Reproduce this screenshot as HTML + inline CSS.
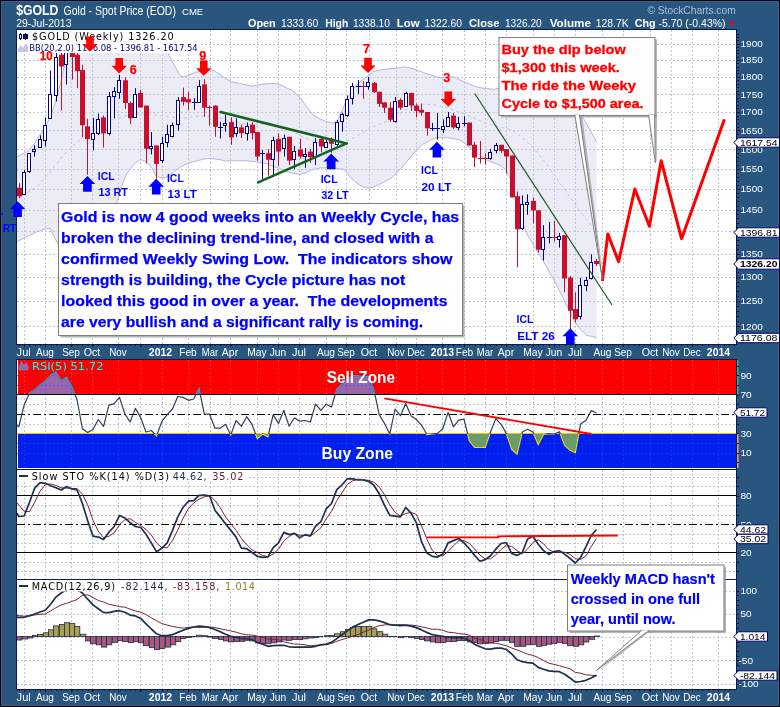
<!DOCTYPE html>
<html lang="en"><head><meta charset="utf-8"><title>$GOLD Gold - Spot Price (EOD) Weekly</title>
<style>html,body{margin:0;padding:0;background:#28567f}body{width:780px;height:707px;overflow:hidden}svg text{white-space:pre}</style></head>
<body>
<svg width="780" height="707" viewBox="0 0 780 707" style="display:block">
<defs>
<clipPath id="cm"><rect x="17" y="30" width="719" height="314"/></clipPath>
<clipPath id="cs"><rect x="17" y="53" width="719" height="291"/></clipPath>
<clipPath id="cr"><rect x="17" y="360" width="719" height="34"/></clipPath>
<clipPath id="cb"><rect x="17" y="434" width="719" height="34"/></clipPath>
<clipPath id="crsi"><rect x="17" y="361" width="719" height="107"/></clipPath>
<clipPath id="csto"><rect x="17" y="469" width="719" height="110"/></clipPath>
<clipPath id="cmacd"><rect x="17" y="580" width="719" height="109"/></clipPath>
</defs>
<rect x="0" y="0" width="780" height="707" fill="#000"/>
<rect x="1" y="1" width="778" height="705" fill="#28567f"/>
<rect x="1.5" y="1.5" width="777" height="704" fill="none" stroke="#2e6392" stroke-width="1"/>
<rect x="16.5" y="29.5" width="720" height="315" fill="#fff" stroke="#0a1a50" stroke-width="1"/>
<rect x="16.5" y="359.5" width="720" height="330" fill="#fff" stroke="#0a1a50" stroke-width="1"/>
<g clip-path="url(#cs)">
<polygon points="17,157 24,153 28,151 34,144 40,135 45,127 50,118 55,103 60,85 64,68 68,53 72,44 80,36 100,30 140,30 160,42 168.3,53.3 172,61 175,66.7 180,75.4 183,77 189,75 195.4,72.3 203,70.8 210.8,69.7 215.5,71.5 220,74.6 226.2,79.2 233,82 241.5,83.8 252.3,86.2 260,84.6 269,83.5 278.5,83.8 287.7,88.5 291.7,90 300,97.3 306,106 313.3,115 320,119 326.7,121.7 333.3,123.3 338,120 343,108 348.3,96.7 353,89 358,84 363,79.5 368,75.8 373.3,71.7 381.7,69.7 395,68.3 405,67 411.7,68.3 423.3,72.5 438.3,77.5 446,77.5 453.3,76.7 460,80 470,84.2 476.8,87.1 485,88.5 493.8,89.3 505,87 515,82 525,77 535,74 545,76 555,83 565,94 575,107 582.7,117 590,130 596.7,142 596.7,337.6 587,335.4 580,329 573.7,319.8 565,302 556,284 546,266 535.9,248.5 528,236 522,222 516,200 511,180 506,170 500,165 494,163 486.7,160 480,155.5 473.3,150 466.7,145 460,140 450,138 440,137.5 434,138.5 428.6,141.1 423,144 417.7,148.7 412,155 406.8,161.8 401,168 395.9,173.8 389.4,179.2 384,182 378.5,184.7 373.5,187 368.7,188 363.5,187 358.8,184.7 354.5,181 350.1,177 347,172.5 343.6,169.4 332.7,167.9 321.8,167.9 316.7,168.5 310.9,170.1 305,173 300,174.5 290,172.5 278.3,168.3 266.7,163.7 256.7,161.7 246.7,160.8 233.3,160.8 226.2,161 220,159.7 215,159 209.2,158.4 204,159 198.5,160.4 192,162 186.2,164.2 180.5,167 175.4,170.4 170,175 164.6,178 160,177.5 155.4,175 152.5,169 149.2,164.2 145,161 140,159.6 136,162.5 132,166.7 127,173.3 122,185 117,201.7 110,207 100,216 90,228 80,240 70,249 63,250 58.7,245 54,236.7 50.3,228.3 45,229 37,231.7 27,236.5 17,241.7" fill="#ececf7"/>
</g>
<line x1="24.5" y1="30" x2="24.5" y2="344" stroke="#c3c7d3" stroke-width="1" stroke-dasharray="2,2" opacity="1"/>
<line x1="45.5" y1="30" x2="45.5" y2="344" stroke="#c3c7d3" stroke-width="1" stroke-dasharray="2,2" opacity="1"/>
<line x1="71.5" y1="30" x2="71.5" y2="344" stroke="#c3c7d3" stroke-width="1" stroke-dasharray="2,2" opacity="1"/>
<line x1="92.5" y1="30" x2="92.5" y2="344" stroke="#c3c7d3" stroke-width="1" stroke-dasharray="2,2" opacity="1"/>
<line x1="118.5" y1="30" x2="118.5" y2="344" stroke="#c3c7d3" stroke-width="1" stroke-dasharray="2,2" opacity="1"/>
<line x1="140.5" y1="30" x2="140.5" y2="344" stroke="#c3c7d3" stroke-width="1" stroke-dasharray="2,2" opacity="1"/>
<line x1="162.5" y1="30" x2="162.5" y2="344" stroke="#c3c7d3" stroke-width="1" stroke-dasharray="2,2" opacity="1"/>
<line x1="188.5" y1="30" x2="188.5" y2="344" stroke="#c3c7d3" stroke-width="1" stroke-dasharray="2,2" opacity="1"/>
<line x1="210.5" y1="30" x2="210.5" y2="344" stroke="#c3c7d3" stroke-width="1" stroke-dasharray="2,2" opacity="1"/>
<line x1="230.5" y1="30" x2="230.5" y2="344" stroke="#c3c7d3" stroke-width="1" stroke-dasharray="2,2" opacity="1"/>
<line x1="257.5" y1="30" x2="257.5" y2="344" stroke="#c3c7d3" stroke-width="1" stroke-dasharray="2,2" opacity="1"/>
<line x1="278.5" y1="30" x2="278.5" y2="344" stroke="#c3c7d3" stroke-width="1" stroke-dasharray="2,2" opacity="1"/>
<line x1="299.5" y1="30" x2="299.5" y2="344" stroke="#c3c7d3" stroke-width="1" stroke-dasharray="2,2" opacity="1"/>
<line x1="326.5" y1="30" x2="326.5" y2="344" stroke="#c3c7d3" stroke-width="1" stroke-dasharray="2,2" opacity="1"/>
<line x1="346.5" y1="30" x2="346.5" y2="344" stroke="#c3c7d3" stroke-width="1" stroke-dasharray="2,2" opacity="1"/>
<line x1="369.5" y1="30" x2="369.5" y2="344" stroke="#c3c7d3" stroke-width="1" stroke-dasharray="2,2" opacity="1"/>
<line x1="396.5" y1="30" x2="396.5" y2="344" stroke="#c3c7d3" stroke-width="1" stroke-dasharray="2,2" opacity="1"/>
<line x1="416.5" y1="30" x2="416.5" y2="344" stroke="#c3c7d3" stroke-width="1" stroke-dasharray="2,2" opacity="1"/>
<line x1="442.5" y1="30" x2="442.5" y2="344" stroke="#c3c7d3" stroke-width="1" stroke-dasharray="2,2" opacity="1"/>
<line x1="464.5" y1="30" x2="464.5" y2="344" stroke="#c3c7d3" stroke-width="1" stroke-dasharray="2,2" opacity="1"/>
<line x1="485.5" y1="30" x2="485.5" y2="344" stroke="#c3c7d3" stroke-width="1" stroke-dasharray="2,2" opacity="1"/>
<line x1="506.5" y1="30" x2="506.5" y2="344" stroke="#c3c7d3" stroke-width="1" stroke-dasharray="2,2" opacity="1"/>
<line x1="533.5" y1="30" x2="533.5" y2="344" stroke="#c3c7d3" stroke-width="1" stroke-dasharray="2,2" opacity="1"/>
<line x1="554.5" y1="30" x2="554.5" y2="344" stroke="#c3c7d3" stroke-width="1" stroke-dasharray="2,2" opacity="1"/>
<line x1="575.5" y1="30" x2="575.5" y2="344" stroke="#c3c7d3" stroke-width="1" stroke-dasharray="2,2" opacity="1"/>
<line x1="602.5" y1="30" x2="602.5" y2="344" stroke="#c3c7d3" stroke-width="1" stroke-dasharray="2,2" opacity="1"/>
<line x1="623.5" y1="30" x2="623.5" y2="344" stroke="#c3c7d3" stroke-width="1" stroke-dasharray="2,2" opacity="1"/>
<line x1="650.5" y1="30" x2="650.5" y2="344" stroke="#c3c7d3" stroke-width="1" stroke-dasharray="2,2" opacity="1"/>
<line x1="671.5" y1="30" x2="671.5" y2="344" stroke="#c3c7d3" stroke-width="1" stroke-dasharray="2,2" opacity="1"/>
<line x1="692.5" y1="30" x2="692.5" y2="344" stroke="#c3c7d3" stroke-width="1" stroke-dasharray="2,2" opacity="1"/>
<line x1="718.5" y1="30" x2="718.5" y2="344" stroke="#c3c7d3" stroke-width="1" stroke-dasharray="2,2" opacity="1"/>
<line x1="17" y1="326.5" x2="736" y2="326.5" stroke="#c3c7d3" stroke-width="1" stroke-dasharray="2,2" opacity="1"/>
<line x1="17" y1="301.5" x2="736" y2="301.5" stroke="#c3c7d3" stroke-width="1" stroke-dasharray="2,2" opacity="1"/>
<line x1="17" y1="277.5" x2="736" y2="277.5" stroke="#c3c7d3" stroke-width="1" stroke-dasharray="2,2" opacity="1"/>
<line x1="17" y1="254.5" x2="736" y2="254.5" stroke="#c3c7d3" stroke-width="1" stroke-dasharray="2,2" opacity="1"/>
<line x1="17" y1="231.5" x2="736" y2="231.5" stroke="#c3c7d3" stroke-width="1" stroke-dasharray="2,2" opacity="1"/>
<line x1="17" y1="210.5" x2="736" y2="210.5" stroke="#c3c7d3" stroke-width="1" stroke-dasharray="2,2" opacity="1"/>
<line x1="17" y1="189.5" x2="736" y2="189.5" stroke="#c3c7d3" stroke-width="1" stroke-dasharray="2,2" opacity="1"/>
<line x1="17" y1="169.5" x2="736" y2="169.5" stroke="#c3c7d3" stroke-width="1" stroke-dasharray="2,2" opacity="1"/>
<line x1="17" y1="149.5" x2="736" y2="149.5" stroke="#c3c7d3" stroke-width="1" stroke-dasharray="2,2" opacity="1"/>
<line x1="17" y1="130.5" x2="736" y2="130.5" stroke="#c3c7d3" stroke-width="1" stroke-dasharray="2,2" opacity="1"/>
<line x1="17" y1="112.5" x2="736" y2="112.5" stroke="#c3c7d3" stroke-width="1" stroke-dasharray="2,2" opacity="1"/>
<line x1="17" y1="94.5" x2="736" y2="94.5" stroke="#c3c7d3" stroke-width="1" stroke-dasharray="2,2" opacity="1"/>
<line x1="17" y1="77.5" x2="736" y2="77.5" stroke="#c3c7d3" stroke-width="1" stroke-dasharray="2,2" opacity="1"/>
<line x1="17" y1="60.5" x2="736" y2="60.5" stroke="#c3c7d3" stroke-width="1" stroke-dasharray="2,2" opacity="1"/>
<line x1="17" y1="44.5" x2="736" y2="44.5" stroke="#c3c7d3" stroke-width="1" stroke-dasharray="2,2" opacity="1"/>
<g clip-path="url(#cs)" fill="none">
<polyline points="17,157 24,153 28,151 34,144 40,135 45,127 50,118 55,103 60,85 64,68 68,53 72,44 80,36 100,30 140,30 160,42 168.3,53.3 172,61 175,66.7 180,75.4 183,77 189,75 195.4,72.3 203,70.8 210.8,69.7 215.5,71.5 220,74.6 226.2,79.2 233,82 241.5,83.8 252.3,86.2 260,84.6 269,83.5 278.5,83.8 287.7,88.5 291.7,90 300,97.3 306,106 313.3,115 320,119 326.7,121.7 333.3,123.3 338,120 343,108 348.3,96.7 353,89 358,84 363,79.5 368,75.8 373.3,71.7 381.7,69.7 395,68.3 405,67 411.7,68.3 423.3,72.5 438.3,77.5 446,77.5 453.3,76.7 460,80 470,84.2 476.8,87.1 485,88.5 493.8,89.3 505,87 515,82 525,77 535,74 545,76 555,83 565,94 575,107 582.7,117 590,130 596.7,142" stroke="#b4b6e2" stroke-width="1"/>
<polyline points="17,241.7 27,236.5 37,231.7 45,229 50.3,228.3 54,236.7 58.7,245 63,250 70,249 80,240 90,228 100,216 110,207 117,201.7 122,185 127,173.3 132,166.7 136,162.5 140,159.6 145,161 149.2,164.2 152.5,169 155.4,175 160,177.5 164.6,178 170,175 175.4,170.4 180.5,167 186.2,164.2 192,162 198.5,160.4 204,159 209.2,158.4 215,159 220,159.7 226.2,161 233.3,160.8 246.7,160.8 256.7,161.7 266.7,163.7 278.3,168.3 290,172.5 300,174.5 305,173 310.9,170.1 316.7,168.5 321.8,167.9 332.7,167.9 343.6,169.4 347,172.5 350.1,177 354.5,181 358.8,184.7 363.5,187 368.7,188 373.5,187 378.5,184.7 384,182 389.4,179.2 395.9,173.8 401,168 406.8,161.8 412,155 417.7,148.7 423,144 428.6,141.1 434,138.5 440,137.5 450,138 460,140 466.7,145 473.3,150 480,155.5 486.7,160 494,163 500,165 506,170 511,180 516,200 522,222 528,236 535.9,248.5 546,266 556,284 565,302 573.7,319.8 580,329 587,335.4 596.7,337.6" stroke="#b4b6e2" stroke-width="1"/>
<polyline points="17,199 37,186.7 50,172 63.7,155 75,144 83.7,136.7 95,128 110,120 125,116 140,114 155,115 170,117 185,118 200,116 215,116.5 230,121 245,124 260,124 275,125.5 290,130 305,138 320,143 335,144.5 345,142 355,137 365,131 375,126 385,122 395,117 405,110 415,105 425,104 435,105 445,107 455,110.5 465,114 475,118.5 485,123 495,126 505,128 515,132 525,140 535,150 545,162 555,176 565,190 575,204 585,218 596.7,232" stroke="#c0c2e6" stroke-width="1" stroke-dasharray="3,3"/>
<line x1="19.5" y1="183.2" x2="19.5" y2="198.5" stroke="#c8102e" stroke-width="1"/>
<rect x="17" y="187.7" width="5" height="8.6" fill="#c8102e"/>
<line x1="24.5" y1="169.8" x2="24.5" y2="194.2" stroke="#00008b" stroke-width="1"/>
<rect x="22.5" y="172.5" width="3" height="22" fill="#fff" stroke="#00008b" stroke-width="1"/>
<line x1="29.5" y1="153.3" x2="29.5" y2="173" stroke="#00008b" stroke-width="1"/>
<rect x="27.5" y="153.5" width="3" height="18" fill="#fff" stroke="#00008b" stroke-width="1"/>
<line x1="34.5" y1="145.4" x2="34.5" y2="156.7" stroke="#00008b" stroke-width="1"/>
<rect x="32.5" y="149.5" width="3" height="2" fill="#fff" stroke="#00008b" stroke-width="1"/>
<line x1="40.5" y1="135.3" x2="40.5" y2="147.5" stroke="#00008b" stroke-width="1"/>
<rect x="38.5" y="139.5" width="3" height="8" fill="#fff" stroke="#00008b" stroke-width="1"/>
<line x1="45.5" y1="117.4" x2="45.5" y2="146.5" stroke="#00008b" stroke-width="1"/>
<rect x="43.5" y="125.5" width="3" height="15" fill="#fff" stroke="#00008b" stroke-width="1"/>
<line x1="50.5" y1="70.6" x2="50.5" y2="118.3" stroke="#00008b" stroke-width="1"/>
<rect x="48.5" y="94.5" width="3" height="24" fill="#fff" stroke="#00008b" stroke-width="1"/>
<line x1="56.5" y1="50" x2="56.5" y2="101.5" stroke="#00008b" stroke-width="1"/>
<rect x="54.5" y="57.5" width="3" height="38" fill="#fff" stroke="#00008b" stroke-width="1"/>
<line x1="61.5" y1="50" x2="61.5" y2="110.4" stroke="#c8102e" stroke-width="1"/>
<rect x="59" y="54.7" width="5" height="11.8" fill="#c8102e"/>
<line x1="66.5" y1="45" x2="66.5" y2="84.6" stroke="#00008b" stroke-width="1"/>
<rect x="64.5" y="50.5" width="3" height="14" fill="#fff" stroke="#00008b" stroke-width="1"/>
<line x1="72.5" y1="40" x2="72.5" y2="79.6" stroke="#c8102e" stroke-width="1"/>
<rect x="70" y="50" width="5" height="7" fill="#c8102e"/>
<line x1="77.5" y1="50" x2="77.5" y2="88.2" stroke="#c8102e" stroke-width="1"/>
<rect x="75" y="54.7" width="5" height="16.5" fill="#c8102e"/>
<line x1="82.5" y1="64.8" x2="82.5" y2="137" stroke="#c8102e" stroke-width="1"/>
<rect x="80" y="70.1" width="5" height="55.2" fill="#c8102e"/>
<line x1="87.5" y1="118.9" x2="87.5" y2="174.7" stroke="#c8102e" stroke-width="1"/>
<rect x="85" y="126.4" width="5" height="12.7" fill="#c8102e"/>
<line x1="93.5" y1="117.9" x2="93.5" y2="150.3" stroke="#00008b" stroke-width="1"/>
<rect x="91.5" y="133.5" width="3" height="6" fill="#fff" stroke="#00008b" stroke-width="1"/>
<line x1="98.5" y1="113.6" x2="98.5" y2="135" stroke="#00008b" stroke-width="1"/>
<rect x="96.5" y="119.5" width="3" height="14" fill="#fff" stroke="#00008b" stroke-width="1"/>
<line x1="103.5" y1="115.5" x2="103.5" y2="147.6" stroke="#c8102e" stroke-width="1"/>
<rect x="101" y="117.4" width="5" height="16" fill="#c8102e"/>
<line x1="109.5" y1="92" x2="109.5" y2="135.5" stroke="#00008b" stroke-width="1"/>
<rect x="107.5" y="96.5" width="3" height="37" fill="#fff" stroke="#00008b" stroke-width="1"/>
<line x1="114.5" y1="87.1" x2="114.5" y2="118.3" stroke="#00008b" stroke-width="1"/>
<rect x="112.5" y="91.5" width="3" height="5" fill="#fff" stroke="#00008b" stroke-width="1"/>
<line x1="119.5" y1="75" x2="119.5" y2="98.8" stroke="#00008b" stroke-width="1"/>
<rect x="117.5" y="80.5" width="3" height="12" fill="#fff" stroke="#00008b" stroke-width="1"/>
<line x1="125.5" y1="77.1" x2="125.5" y2="109" stroke="#c8102e" stroke-width="1"/>
<rect x="123" y="80.3" width="5" height="22.7" fill="#c8102e"/>
<line x1="130.5" y1="101.5" x2="130.5" y2="124.2" stroke="#c8102e" stroke-width="1"/>
<rect x="128" y="103" width="5" height="15.3" fill="#c8102e"/>
<line x1="135.5" y1="88.2" x2="135.5" y2="117.4" stroke="#00008b" stroke-width="1"/>
<rect x="133.5" y="94.5" width="3" height="23" fill="#fff" stroke="#00008b" stroke-width="1"/>
<line x1="140.5" y1="89.7" x2="140.5" y2="107.5" stroke="#c8102e" stroke-width="1"/>
<rect x="138" y="93" width="5" height="14.5" fill="#c8102e"/>
<line x1="146.5" y1="105.6" x2="146.5" y2="163.5" stroke="#c8102e" stroke-width="1"/>
<rect x="144" y="105.6" width="5" height="43.1" fill="#c8102e"/>
<line x1="151.5" y1="132.1" x2="151.5" y2="154.4" stroke="#00008b" stroke-width="1"/>
<rect x="149.5" y="146.5" width="3" height="2" fill="#fff" stroke="#00008b" stroke-width="1"/>
<line x1="156.5" y1="145.5" x2="156.5" y2="178.8" stroke="#c8102e" stroke-width="1"/>
<rect x="154" y="145.5" width="5" height="18.4" fill="#c8102e"/>
<line x1="162.5" y1="136.8" x2="162.5" y2="162.9" stroke="#00008b" stroke-width="1"/>
<rect x="160.5" y="143.5" width="3" height="17" fill="#fff" stroke="#00008b" stroke-width="1"/>
<line x1="167.5" y1="124.7" x2="167.5" y2="147.4" stroke="#00008b" stroke-width="1"/>
<rect x="165.5" y="134.5" width="3" height="8" fill="#fff" stroke="#00008b" stroke-width="1"/>
<line x1="172.5" y1="122.6" x2="172.5" y2="137.4" stroke="#00008b" stroke-width="1"/>
<rect x="170.5" y="125.5" width="3" height="11" fill="#fff" stroke="#00008b" stroke-width="1"/>
<line x1="178.5" y1="97.1" x2="178.5" y2="130.6" stroke="#00008b" stroke-width="1"/>
<rect x="176.5" y="100.5" width="3" height="24" fill="#fff" stroke="#00008b" stroke-width="1"/>
<line x1="183.5" y1="87.6" x2="183.5" y2="105.6" stroke="#c8102e" stroke-width="1"/>
<rect x="181" y="97.1" width="5" height="4.7" fill="#c8102e"/>
<line x1="188.5" y1="91.8" x2="188.5" y2="109.8" stroke="#c8102e" stroke-width="1"/>
<rect x="186" y="99.2" width="5" height="3.2" fill="#c8102e"/>
<line x1="194.5" y1="98.2" x2="194.5" y2="109.8" stroke="#00008b" stroke-width="1"/>
<line x1="192" y1="102.5" x2="197" y2="102.5" stroke="#00008b" stroke-width="1"/>
<line x1="199.5" y1="80.1" x2="199.5" y2="101.8" stroke="#00008b" stroke-width="1"/>
<rect x="197.5" y="86.5" width="3" height="16" fill="#fff" stroke="#00008b" stroke-width="1"/>
<line x1="204.5" y1="79.1" x2="204.5" y2="116.8" stroke="#c8102e" stroke-width="1"/>
<rect x="202" y="84.4" width="5" height="23.3" fill="#c8102e"/>
<line x1="209.5" y1="105.6" x2="209.5" y2="125.7" stroke="#c8102e" stroke-width="1"/>
<line x1="207" y1="107.5" x2="212" y2="107.5" stroke="#c8102e" stroke-width="1"/>
<line x1="215.5" y1="105.6" x2="215.5" y2="136.8" stroke="#c8102e" stroke-width="1"/>
<rect x="213" y="105.6" width="5" height="21.2" fill="#c8102e"/>
<line x1="220.5" y1="121.9" x2="220.5" y2="138.5" stroke="#00008b" stroke-width="1"/>
<line x1="218" y1="127.5" x2="223" y2="127.5" stroke="#00008b" stroke-width="1"/>
<line x1="225.5" y1="115.1" x2="225.5" y2="131.7" stroke="#00008b" stroke-width="1"/>
<rect x="223.5" y="123.5" width="3" height="2" fill="#fff" stroke="#00008b" stroke-width="1"/>
<line x1="231.5" y1="117.3" x2="231.5" y2="144.8" stroke="#c8102e" stroke-width="1"/>
<rect x="229" y="122.1" width="5" height="15.3" fill="#c8102e"/>
<line x1="236.5" y1="118.3" x2="236.5" y2="136.8" stroke="#00008b" stroke-width="1"/>
<rect x="234.5" y="127.5" width="3" height="6" fill="#fff" stroke="#00008b" stroke-width="1"/>
<line x1="241.5" y1="124.5" x2="241.5" y2="138" stroke="#c8102e" stroke-width="1"/>
<rect x="239" y="127.4" width="5" height="5.8" fill="#c8102e"/>
<line x1="247.5" y1="122.6" x2="247.5" y2="140.6" stroke="#00008b" stroke-width="1"/>
<rect x="245.5" y="126.5" width="3" height="7" fill="#fff" stroke="#00008b" stroke-width="1"/>
<line x1="252.5" y1="122.1" x2="252.5" y2="139.5" stroke="#c8102e" stroke-width="1"/>
<rect x="250" y="124.7" width="5" height="8.5" fill="#c8102e"/>
<line x1="257.5" y1="132.1" x2="257.5" y2="160.7" stroke="#c8102e" stroke-width="1"/>
<rect x="255" y="132.1" width="5" height="24.4" fill="#c8102e"/>
<line x1="262.5" y1="150.1" x2="262.5" y2="179" stroke="#00008b" stroke-width="1"/>
<line x1="260" y1="153.5" x2="265" y2="153.5" stroke="#00008b" stroke-width="1"/>
<line x1="268.5" y1="149.1" x2="268.5" y2="175.6" stroke="#c8102e" stroke-width="1"/>
<rect x="266" y="153.3" width="5" height="6.4" fill="#c8102e"/>
<line x1="273.5" y1="136.8" x2="273.5" y2="176.2" stroke="#00008b" stroke-width="1"/>
<rect x="271.5" y="140.5" width="3" height="19" fill="#fff" stroke="#00008b" stroke-width="1"/>
<line x1="278.5" y1="133.2" x2="278.5" y2="166" stroke="#c8102e" stroke-width="1"/>
<rect x="276" y="138.9" width="5" height="12.7" fill="#c8102e"/>
<line x1="284.5" y1="134.7" x2="284.5" y2="156.5" stroke="#00008b" stroke-width="1"/>
<rect x="282.5" y="138.5" width="3" height="10" fill="#fff" stroke="#00008b" stroke-width="1"/>
<line x1="289.5" y1="136.8" x2="289.5" y2="165" stroke="#c8102e" stroke-width="1"/>
<rect x="287" y="136.8" width="5" height="23.9" fill="#c8102e"/>
<line x1="294.5" y1="145.9" x2="294.5" y2="169.2" stroke="#00008b" stroke-width="1"/>
<rect x="292.5" y="151.5" width="3" height="8" fill="#fff" stroke="#00008b" stroke-width="1"/>
<line x1="300.5" y1="138.9" x2="300.5" y2="158.6" stroke="#c8102e" stroke-width="1"/>
<rect x="298" y="149.5" width="5" height="7" fill="#c8102e"/>
<line x1="305.5" y1="148" x2="305.5" y2="167.7" stroke="#00008b" stroke-width="1"/>
<rect x="303.5" y="154.5" width="3" height="2" fill="#fff" stroke="#00008b" stroke-width="1"/>
<line x1="310.5" y1="149" x2="310.5" y2="162.9" stroke="#c8102e" stroke-width="1"/>
<rect x="308" y="151.6" width="5" height="5.5" fill="#c8102e"/>
<line x1="315.5" y1="138" x2="315.5" y2="165" stroke="#00008b" stroke-width="1"/>
<rect x="313.5" y="142.5" width="3" height="15" fill="#fff" stroke="#00008b" stroke-width="1"/>
<line x1="321.5" y1="137.5" x2="321.5" y2="152.3" stroke="#c8102e" stroke-width="1"/>
<rect x="319" y="138.9" width="5" height="7.6" fill="#c8102e"/>
<line x1="326.5" y1="139.5" x2="326.5" y2="148" stroke="#00008b" stroke-width="1"/>
<rect x="324.5" y="142.5" width="3" height="5" fill="#fff" stroke="#00008b" stroke-width="1"/>
<line x1="331.5" y1="137.4" x2="331.5" y2="152.9" stroke="#c8102e" stroke-width="1"/>
<rect x="329" y="138.9" width="5" height="4.9" fill="#c8102e"/>
<line x1="337.5" y1="120" x2="337.5" y2="145.9" stroke="#00008b" stroke-width="1"/>
<rect x="335.5" y="122.5" width="3" height="22" fill="#fff" stroke="#00008b" stroke-width="1"/>
<line x1="342.5" y1="112.6" x2="342.5" y2="131.7" stroke="#00008b" stroke-width="1"/>
<rect x="340.5" y="114.5" width="3" height="7" fill="#fff" stroke="#00008b" stroke-width="1"/>
<line x1="347.5" y1="95.6" x2="347.5" y2="116.8" stroke="#00008b" stroke-width="1"/>
<rect x="345.5" y="99.5" width="3" height="16" fill="#fff" stroke="#00008b" stroke-width="1"/>
<line x1="352.5" y1="82.9" x2="352.5" y2="104.5" stroke="#00008b" stroke-width="1"/>
<rect x="350.5" y="86.5" width="3" height="12" fill="#fff" stroke="#00008b" stroke-width="1"/>
<line x1="358.5" y1="80.1" x2="358.5" y2="93.9" stroke="#00008b" stroke-width="1"/>
<line x1="356" y1="86.5" x2="361" y2="86.5" stroke="#00008b" stroke-width="1"/>
<line x1="363.5" y1="81.2" x2="363.5" y2="98.8" stroke="#c8102e" stroke-width="1"/>
<line x1="361" y1="86.5" x2="366" y2="86.5" stroke="#c8102e" stroke-width="1"/>
<line x1="368.5" y1="77" x2="368.5" y2="89.7" stroke="#00008b" stroke-width="1"/>
<rect x="366.5" y="82.5" width="3" height="4" fill="#fff" stroke="#00008b" stroke-width="1"/>
<line x1="374.5" y1="82" x2="374.5" y2="93" stroke="#c8102e" stroke-width="1"/>
<rect x="372" y="82.9" width="5" height="9.3" fill="#c8102e"/>
<line x1="379.5" y1="91.8" x2="379.5" y2="107" stroke="#c8102e" stroke-width="1"/>
<rect x="377" y="91.8" width="5" height="12.1" fill="#c8102e"/>
<line x1="384.5" y1="102.4" x2="384.5" y2="113" stroke="#c8102e" stroke-width="1"/>
<rect x="382" y="102.4" width="5" height="5.3" fill="#c8102e"/>
<line x1="390.5" y1="102.4" x2="390.5" y2="121.9" stroke="#c8102e" stroke-width="1"/>
<rect x="388" y="107.7" width="5" height="12.1" fill="#c8102e"/>
<line x1="395.5" y1="97.1" x2="395.5" y2="122.6" stroke="#00008b" stroke-width="1"/>
<rect x="393.5" y="101.5" width="3" height="20" fill="#fff" stroke="#00008b" stroke-width="1"/>
<line x1="400.5" y1="98.2" x2="400.5" y2="109.8" stroke="#c8102e" stroke-width="1"/>
<rect x="398" y="99.9" width="5" height="7.8" fill="#c8102e"/>
<line x1="406.5" y1="91.8" x2="406.5" y2="107" stroke="#00008b" stroke-width="1"/>
<rect x="404.5" y="93.5" width="3" height="13" fill="#fff" stroke="#00008b" stroke-width="1"/>
<line x1="411.5" y1="92.9" x2="411.5" y2="110.9" stroke="#c8102e" stroke-width="1"/>
<rect x="409" y="92.9" width="5" height="12.7" fill="#c8102e"/>
<line x1="416.5" y1="103.5" x2="416.5" y2="117.3" stroke="#c8102e" stroke-width="1"/>
<rect x="414" y="105.6" width="5" height="5.3" fill="#c8102e"/>
<line x1="421.5" y1="103.5" x2="421.5" y2="115.6" stroke="#c8102e" stroke-width="1"/>
<rect x="419" y="109.8" width="5" height="2.8" fill="#c8102e"/>
<line x1="427.5" y1="112" x2="427.5" y2="135.7" stroke="#c8102e" stroke-width="1"/>
<rect x="425" y="112" width="5" height="16.3" fill="#c8102e"/>
<line x1="432.5" y1="123" x2="432.5" y2="131" stroke="#00008b" stroke-width="1"/>
<line x1="430" y1="128.5" x2="435" y2="128.5" stroke="#00008b" stroke-width="1"/>
<line x1="437.5" y1="113" x2="437.5" y2="139.5" stroke="#00008b" stroke-width="1"/>
<line x1="435" y1="128.5" x2="440" y2="128.5" stroke="#00008b" stroke-width="1"/>
<line x1="443.5" y1="119.4" x2="443.5" y2="133.2" stroke="#00008b" stroke-width="1"/>
<rect x="441.5" y="126.5" width="3" height="3" fill="#fff" stroke="#00008b" stroke-width="1"/>
<line x1="448.5" y1="112" x2="448.5" y2="126.8" stroke="#00008b" stroke-width="1"/>
<rect x="446.5" y="117.5" width="3" height="9" fill="#fff" stroke="#00008b" stroke-width="1"/>
<line x1="453.5" y1="113" x2="453.5" y2="128.9" stroke="#c8102e" stroke-width="1"/>
<rect x="451" y="115.6" width="5" height="11.8" fill="#c8102e"/>
<line x1="458.5" y1="116.8" x2="458.5" y2="130.4" stroke="#00008b" stroke-width="1"/>
<rect x="456.5" y="123.5" width="3" height="4" fill="#fff" stroke="#00008b" stroke-width="1"/>
<line x1="464.5" y1="116.2" x2="464.5" y2="126.2" stroke="#00008b" stroke-width="1"/>
<line x1="462" y1="123.5" x2="467" y2="123.5" stroke="#00008b" stroke-width="1"/>
<line x1="469.5" y1="122.6" x2="469.5" y2="145.5" stroke="#c8102e" stroke-width="1"/>
<rect x="467" y="122.6" width="5" height="22.9" fill="#c8102e"/>
<line x1="474.5" y1="141.7" x2="474.5" y2="167.1" stroke="#c8102e" stroke-width="1"/>
<rect x="472" y="144.8" width="5" height="12.8" fill="#c8102e"/>
<line x1="480.5" y1="141" x2="480.5" y2="163.5" stroke="#c8102e" stroke-width="1"/>
<line x1="478" y1="158.5" x2="483" y2="158.5" stroke="#c8102e" stroke-width="1"/>
<line x1="485.5" y1="153.3" x2="485.5" y2="164.6" stroke="#c8102e" stroke-width="1"/>
<line x1="483" y1="158.5" x2="488" y2="158.5" stroke="#c8102e" stroke-width="1"/>
<line x1="490.5" y1="149.1" x2="490.5" y2="159.7" stroke="#00008b" stroke-width="1"/>
<rect x="488.5" y="152.5" width="3" height="6" fill="#fff" stroke="#00008b" stroke-width="1"/>
<line x1="496.5" y1="142.9" x2="496.5" y2="153.3" stroke="#00008b" stroke-width="1"/>
<rect x="494.5" y="145.5" width="3" height="5" fill="#fff" stroke="#00008b" stroke-width="1"/>
<line x1="501.5" y1="144.8" x2="501.5" y2="153" stroke="#c8102e" stroke-width="1"/>
<rect x="499" y="144.8" width="5" height="6.1" fill="#c8102e"/>
<line x1="506.5" y1="149.1" x2="506.5" y2="173.5" stroke="#c8102e" stroke-width="1"/>
<rect x="504" y="149.1" width="5" height="7.4" fill="#c8102e"/>
<line x1="512.5" y1="155.5" x2="512.5" y2="197.4" stroke="#c8102e" stroke-width="1"/>
<rect x="510" y="155.5" width="5" height="41.9" fill="#c8102e"/>
<line x1="517.5" y1="191.5" x2="517.5" y2="267.4" stroke="#c8102e" stroke-width="1"/>
<rect x="515" y="196.2" width="5" height="33.1" fill="#c8102e"/>
<line x1="522.5" y1="195.3" x2="522.5" y2="230" stroke="#00008b" stroke-width="1"/>
<rect x="520.5" y="204.5" width="3" height="24" fill="#fff" stroke="#00008b" stroke-width="1"/>
<line x1="527.5" y1="194.3" x2="527.5" y2="214.8" stroke="#00008b" stroke-width="1"/>
<rect x="525.5" y="202.5" width="3" height="2" fill="#fff" stroke="#00008b" stroke-width="1"/>
<line x1="533.5" y1="197.4" x2="533.5" y2="223.3" stroke="#c8102e" stroke-width="1"/>
<rect x="531" y="201" width="5" height="9.5" fill="#c8102e"/>
<line x1="538.5" y1="210.3" x2="538.5" y2="252.7" stroke="#c8102e" stroke-width="1"/>
<rect x="536" y="210.3" width="5" height="39.5" fill="#c8102e"/>
<line x1="543.5" y1="225.2" x2="543.5" y2="260.5" stroke="#00008b" stroke-width="1"/>
<rect x="541.5" y="237.5" width="3" height="12" fill="#fff" stroke="#00008b" stroke-width="1"/>
<line x1="549.5" y1="221.9" x2="549.5" y2="243.4" stroke="#00008b" stroke-width="1"/>
<line x1="547" y1="237.5" x2="552" y2="237.5" stroke="#00008b" stroke-width="1"/>
<line x1="554.5" y1="220.8" x2="554.5" y2="241.8" stroke="#c8102e" stroke-width="1"/>
<line x1="552" y1="237.5" x2="557" y2="237.5" stroke="#c8102e" stroke-width="1"/>
<line x1="559.5" y1="233" x2="559.5" y2="247.6" stroke="#00008b" stroke-width="1"/>
<rect x="557.5" y="236.5" width="3" height="3" fill="#fff" stroke="#00008b" stroke-width="1"/>
<line x1="564.5" y1="235.3" x2="564.5" y2="292.3" stroke="#c8102e" stroke-width="1"/>
<rect x="562" y="235.3" width="5" height="43.2" fill="#c8102e"/>
<line x1="570.5" y1="276" x2="570.5" y2="328.8" stroke="#c8102e" stroke-width="1"/>
<rect x="568" y="277.5" width="5" height="33.2" fill="#c8102e"/>
<line x1="575.5" y1="292.3" x2="575.5" y2="322.4" stroke="#c8102e" stroke-width="1"/>
<rect x="573" y="309.1" width="5" height="10.2" fill="#c8102e"/>
<line x1="580.5" y1="277.9" x2="580.5" y2="319.5" stroke="#00008b" stroke-width="1"/>
<rect x="578.5" y="285.5" width="3" height="31" fill="#fff" stroke="#00008b" stroke-width="1"/>
<line x1="586.5" y1="276.9" x2="586.5" y2="291.2" stroke="#00008b" stroke-width="1"/>
<rect x="584.5" y="280.5" width="3" height="5" fill="#fff" stroke="#00008b" stroke-width="1"/>
<line x1="591.5" y1="254.3" x2="591.5" y2="279.5" stroke="#00008b" stroke-width="1"/>
<rect x="589.5" y="262.5" width="3" height="16" fill="#fff" stroke="#00008b" stroke-width="1"/>
<line x1="596.5" y1="259" x2="596.5" y2="266" stroke="#c8102e" stroke-width="1"/>
<rect x="594" y="260.9" width="5" height="3.1" fill="#c8102e"/>
</g>
<rect x="17" y="30" width="182" height="23" fill="#fff"/>
<g stroke="#00008b" stroke-width="1" fill="#fff"><line x1="20.5" y1="33" x2="20.5" y2="40"/><rect x="19.5" y="34.5" width="2" height="4" fill="#fff"/><line x1="25.5" y1="33" x2="25.5" y2="40"/><rect x="23.5" y="34.5" width="4" height="4" fill="#00008b"/></g>
<text x="32" y="39.7" font-family="DejaVu Sans, Verdana, sans-serif" font-size="9.7" fill="#000" textLength="141.6" lengthAdjust="spacing">$GOLD (Weekly) 1326.20</text>
<polygon points="18,52 18,49 21,45 23,48 26,43 28,47 28,52" fill="#c6c6e4"/>
<text x="29.2" y="50.7" font-family="DejaVu Sans, Verdana, sans-serif" font-size="8.7" fill="#000080" textLength="168.4" lengthAdjust="spacingAndGlyphs">BB(20,2.0) 1176.08 - 1396.81 - 1617.54</text>
<g stroke="#14641e" stroke-width="2.6" stroke-linecap="round" fill="none"><line x1="220.5" y1="112" x2="346.6" y2="143.4"/><line x1="258.2" y1="182.4" x2="346.6" y2="143.4"/></g>
<line x1="474.7" y1="93.5" x2="612" y2="305" stroke="#1f5a2a" stroke-width="1.2"/>
<polyline points="602.4,281 607.8,233.9 618.6,261.6 634.8,189 649.4,226.3 661.2,160.8 681.6,238.8 724.4,119.2" fill="none" stroke="#ff0000" stroke-width="3" stroke-linejoin="round"/>
<rect x="60.5" y="205.5" width="404" height="132" fill="#9a9a9a" opacity="0.75"/>
<rect x="58.5" y="203.5" width="404" height="132" fill="#fff" stroke="#7f7f7f" stroke-width="1"/>
<text x="61.1" y="222.2" font-family="Liberation Sans, Arial, sans-serif" font-size="15.5" fill="#0000ff" font-weight="bold" textLength="398.1" lengthAdjust="spacingAndGlyphs" xml:space="preserve" stroke="#0000ff" stroke-width="0.25">Gold is now 4 good weeks into an Weekly Cycle, has</text>
<text x="61.1" y="243.2" font-family="Liberation Sans, Arial, sans-serif" font-size="15.5" fill="#0000ff" font-weight="bold" textLength="372.4" lengthAdjust="spacingAndGlyphs" xml:space="preserve" stroke="#0000ff" stroke-width="0.25">broken the declining trend-line, and closed with a</text>
<text x="61.1" y="264.2" font-family="Liberation Sans, Arial, sans-serif" font-size="15.5" fill="#0000ff" font-weight="bold" textLength="391.4" lengthAdjust="spacingAndGlyphs" xml:space="preserve" stroke="#0000ff" stroke-width="0.25">confirmed Weekly Swing Low.  The indicators show</text>
<text x="61.1" y="285.2" font-family="Liberation Sans, Arial, sans-serif" font-size="15.5" fill="#0000ff" font-weight="bold" textLength="344.1" lengthAdjust="spacingAndGlyphs" xml:space="preserve" stroke="#0000ff" stroke-width="0.25">strength is building, the Cycle picture has not</text>
<text x="61.1" y="306.2" font-family="Liberation Sans, Arial, sans-serif" font-size="15.5" fill="#0000ff" font-weight="bold" textLength="386.4" lengthAdjust="spacingAndGlyphs" xml:space="preserve" stroke="#0000ff" stroke-width="0.25">looked this good in over a year.  The developments</text>
<text x="61.1" y="327.2" font-family="Liberation Sans, Arial, sans-serif" font-size="15.5" fill="#0000ff" font-weight="bold" textLength="362" lengthAdjust="spacingAndGlyphs" xml:space="preserve" stroke="#0000ff" stroke-width="0.25">are very bullish and a significant rally is coming.</text>
<rect x="501" y="39.5" width="156" height="78" fill="#9a9a9a" opacity="0.75"/>
<polygon points="576.8,115 582,115 603.9,280.5" fill="#9a9a9a" opacity="0.7"/>
<polygon points="650.6,115 657,115 656.8,163.7" fill="#9a9a9a" opacity="0.7"/>
<rect x="499" y="37.5" width="156" height="78" fill="#fff" stroke="#7f7f7f" stroke-width="1"/>
<polygon points="574.8,115 579.5,115 602.4,279.5" fill="#fff" stroke="#7f7f7f" stroke-width="1"/>
<line x1="575.7" y1="115.5" x2="578.6" y2="115.5" stroke="#fff" stroke-width="1.6"/>
<polygon points="648.6,115 654.5,115 655.3,162.7" fill="#fff" stroke="#7f7f7f" stroke-width="1"/>
<line x1="649.5" y1="115.5" x2="653.6" y2="115.5" stroke="#fff" stroke-width="1.6"/>
<text x="501.5" y="54.4" font-family="Liberation Sans, Arial, sans-serif" font-size="13" fill="#ff0000" font-weight="bold" textLength="124.2" lengthAdjust="spacingAndGlyphs" stroke="#ff0000" stroke-width="0.3">Buy the dip below</text>
<text x="501.5" y="72.2" font-family="Liberation Sans, Arial, sans-serif" font-size="13" fill="#ff0000" font-weight="bold" textLength="118.4" lengthAdjust="spacingAndGlyphs" stroke="#ff0000" stroke-width="0.3">$1,300 this week.</text>
<text x="501.5" y="90.1" font-family="Liberation Sans, Arial, sans-serif" font-size="13" fill="#ff0000" font-weight="bold" textLength="134.4" lengthAdjust="spacingAndGlyphs" stroke="#ff0000" stroke-width="0.3">The ride the Weeky</text>
<text x="501.5" y="108" font-family="Liberation Sans, Arial, sans-serif" font-size="13" fill="#ff0000" font-weight="bold" textLength="142" lengthAdjust="spacingAndGlyphs" stroke="#ff0000" stroke-width="0.3">Cycle to $1,500 area.</text>
<polygon points="90,51.8 97.7,44.2 93.8,44.2 93.8,36.5 86.2,36.5 86.2,44.2 82.3,44.2" fill="#ff0000"/>
<polygon points="119.2,73.4 126.9,65.8 123,65.8 123,58.1 115.4,58.1 115.4,65.8 111.5,65.8" fill="#ff0000"/>
<polygon points="203.8,75.8 211.5,68.2 207.6,68.2 207.6,60.5 200,60.5 200,68.2 196.1,68.2" fill="#ff0000"/>
<polygon points="368,73 375.7,65.4 371.8,65.4 371.8,57.7 364.2,57.7 364.2,65.4 360.3,65.4" fill="#ff0000"/>
<polygon points="448.3,106.7 456,99.1 452.1,99.1 452.1,91.4 444.5,91.4 444.5,99.1 440.6,99.1" fill="#ff0000"/>
<text x="39.8" y="59.6" font-family="Liberation Sans, Arial, sans-serif" font-size="13.3" fill="#ff0000" font-weight="bold" textLength="12.8" lengthAdjust="spacingAndGlyphs" stroke="#ff0000" stroke-width="0.25">10</text>
<text x="129.8" y="74.4" font-family="Liberation Sans, Arial, sans-serif" font-size="13.3" fill="#ff0000" font-weight="bold" textLength="7" lengthAdjust="spacingAndGlyphs" stroke="#ff0000" stroke-width="0.25">6</text>
<text x="199.2" y="59.5" font-family="Liberation Sans, Arial, sans-serif" font-size="13.3" fill="#ff0000" font-weight="bold" textLength="7" lengthAdjust="spacingAndGlyphs" stroke="#ff0000" stroke-width="0.25">9</text>
<text x="363" y="53.3" font-family="Liberation Sans, Arial, sans-serif" font-size="13.3" fill="#ff0000" font-weight="bold" textLength="7" lengthAdjust="spacingAndGlyphs" stroke="#ff0000" stroke-width="0.25">7</text>
<text x="443.3" y="82" font-family="Liberation Sans, Arial, sans-serif" font-size="13.3" fill="#ff0000" font-weight="bold" textLength="7" lengthAdjust="spacingAndGlyphs" stroke="#ff0000" stroke-width="0.25">3</text>
<polygon points="17.6,201.2 25.4,209.2 21.9,209.2 21.9,217 13.3,217 13.3,209.2 9.8,209.2" fill="#0000ff"/>
<polygon points="87.4,176 95.2,184 91.7,184 91.7,191.8 83.1,191.8 83.1,184 79.6,184" fill="#0000ff"/>
<polygon points="156.2,178.8 164,186.8 160.5,186.8 160.5,194.6 151.9,194.6 151.9,186.8 148.4,186.8" fill="#0000ff"/>
<polygon points="331.2,153.5 339,161.5 335.5,161.5 335.5,169.3 326.9,169.3 326.9,161.5 323.4,161.5" fill="#0000ff"/>
<polygon points="436.9,141.7 444.7,149.7 441.2,149.7 441.2,157.5 432.6,157.5 432.6,149.7 429.1,149.7" fill="#0000ff"/>
<polygon points="570.3,328.2 578.1,336.2 574.6,336.2 574.6,344 566,344 566,336.2 562.5,336.2" fill="#0000ff"/>
<text x="2.7" y="231.7" font-family="Liberation Sans, Arial, sans-serif" font-size="11.8" fill="#0000ff" font-weight="bold" textLength="13.5" lengthAdjust="spacingAndGlyphs">RT</text>
<rect x="0" y="213.5" width="3" height="1.2" fill="#0000ff"/>
<text x="97.8" y="179.6" font-family="Liberation Sans, Arial, sans-serif" font-size="11.8" fill="#0000ff" font-weight="bold" textLength="16.9" lengthAdjust="spacingAndGlyphs">ICL</text>
<text x="98.4" y="196.3" font-family="Liberation Sans, Arial, sans-serif" font-size="11.8" fill="#0000ff" font-weight="bold" textLength="29.6" lengthAdjust="spacingAndGlyphs">13 RT</text>
<text x="166.9" y="181.7" font-family="Liberation Sans, Arial, sans-serif" font-size="11.8" fill="#0000ff" font-weight="bold" textLength="16.9" lengthAdjust="spacingAndGlyphs">ICL</text>
<text x="167.5" y="198.4" font-family="Liberation Sans, Arial, sans-serif" font-size="11.8" fill="#0000ff" font-weight="bold" textLength="29.2" lengthAdjust="spacingAndGlyphs">13 LT</text>
<text x="320.7" y="182.7" font-family="Liberation Sans, Arial, sans-serif" font-size="11.8" fill="#0000ff" font-weight="bold" textLength="17" lengthAdjust="spacingAndGlyphs">ICL</text>
<text x="321.3" y="199.4" font-family="Liberation Sans, Arial, sans-serif" font-size="11.8" fill="#0000ff" font-weight="bold" textLength="27.3" lengthAdjust="spacingAndGlyphs">32 LT</text>
<text x="421" y="173.8" font-family="Liberation Sans, Arial, sans-serif" font-size="11.8" fill="#0000ff" font-weight="bold" textLength="16.8" lengthAdjust="spacingAndGlyphs">ICL</text>
<text x="421.6" y="190.5" font-family="Liberation Sans, Arial, sans-serif" font-size="11.8" fill="#0000ff" font-weight="bold" textLength="29.8" lengthAdjust="spacingAndGlyphs">20 LT</text>
<text x="516.6" y="322.8" font-family="Liberation Sans, Arial, sans-serif" font-size="11.8" fill="#0000ff" font-weight="bold" textLength="16.9" lengthAdjust="spacingAndGlyphs">ICL</text>
<text x="517.2" y="339.5" font-family="Liberation Sans, Arial, sans-serif" font-size="11.8" fill="#0000ff" font-weight="bold" textLength="37.6" lengthAdjust="spacingAndGlyphs">ELT 26</text>
<rect x="18" y="360" width="718" height="34" fill="#fe0000"/>
<rect x="18" y="434" width="718" height="34" fill="#0020f0"/>
<line x1="24.5" y1="394" x2="24.5" y2="434" stroke="#c3c7d3" stroke-width="1" stroke-dasharray="2,2" opacity="1"/>
<line x1="45.5" y1="394" x2="45.5" y2="434" stroke="#c3c7d3" stroke-width="1" stroke-dasharray="2,2" opacity="1"/>
<line x1="71.5" y1="394" x2="71.5" y2="434" stroke="#c3c7d3" stroke-width="1" stroke-dasharray="2,2" opacity="1"/>
<line x1="92.5" y1="394" x2="92.5" y2="434" stroke="#c3c7d3" stroke-width="1" stroke-dasharray="2,2" opacity="1"/>
<line x1="118.5" y1="394" x2="118.5" y2="434" stroke="#c3c7d3" stroke-width="1" stroke-dasharray="2,2" opacity="1"/>
<line x1="140.5" y1="394" x2="140.5" y2="434" stroke="#c3c7d3" stroke-width="1" stroke-dasharray="2,2" opacity="1"/>
<line x1="162.5" y1="394" x2="162.5" y2="434" stroke="#c3c7d3" stroke-width="1" stroke-dasharray="2,2" opacity="1"/>
<line x1="188.5" y1="394" x2="188.5" y2="434" stroke="#c3c7d3" stroke-width="1" stroke-dasharray="2,2" opacity="1"/>
<line x1="210.5" y1="394" x2="210.5" y2="434" stroke="#c3c7d3" stroke-width="1" stroke-dasharray="2,2" opacity="1"/>
<line x1="230.5" y1="394" x2="230.5" y2="434" stroke="#c3c7d3" stroke-width="1" stroke-dasharray="2,2" opacity="1"/>
<line x1="257.5" y1="394" x2="257.5" y2="434" stroke="#c3c7d3" stroke-width="1" stroke-dasharray="2,2" opacity="1"/>
<line x1="278.5" y1="394" x2="278.5" y2="434" stroke="#c3c7d3" stroke-width="1" stroke-dasharray="2,2" opacity="1"/>
<line x1="299.5" y1="394" x2="299.5" y2="434" stroke="#c3c7d3" stroke-width="1" stroke-dasharray="2,2" opacity="1"/>
<line x1="326.5" y1="394" x2="326.5" y2="434" stroke="#c3c7d3" stroke-width="1" stroke-dasharray="2,2" opacity="1"/>
<line x1="346.5" y1="394" x2="346.5" y2="434" stroke="#c3c7d3" stroke-width="1" stroke-dasharray="2,2" opacity="1"/>
<line x1="369.5" y1="394" x2="369.5" y2="434" stroke="#c3c7d3" stroke-width="1" stroke-dasharray="2,2" opacity="1"/>
<line x1="396.5" y1="394" x2="396.5" y2="434" stroke="#c3c7d3" stroke-width="1" stroke-dasharray="2,2" opacity="1"/>
<line x1="416.5" y1="394" x2="416.5" y2="434" stroke="#c3c7d3" stroke-width="1" stroke-dasharray="2,2" opacity="1"/>
<line x1="442.5" y1="394" x2="442.5" y2="434" stroke="#c3c7d3" stroke-width="1" stroke-dasharray="2,2" opacity="1"/>
<line x1="464.5" y1="394" x2="464.5" y2="434" stroke="#c3c7d3" stroke-width="1" stroke-dasharray="2,2" opacity="1"/>
<line x1="485.5" y1="394" x2="485.5" y2="434" stroke="#c3c7d3" stroke-width="1" stroke-dasharray="2,2" opacity="1"/>
<line x1="506.5" y1="394" x2="506.5" y2="434" stroke="#c3c7d3" stroke-width="1" stroke-dasharray="2,2" opacity="1"/>
<line x1="533.5" y1="394" x2="533.5" y2="434" stroke="#c3c7d3" stroke-width="1" stroke-dasharray="2,2" opacity="1"/>
<line x1="554.5" y1="394" x2="554.5" y2="434" stroke="#c3c7d3" stroke-width="1" stroke-dasharray="2,2" opacity="1"/>
<line x1="575.5" y1="394" x2="575.5" y2="434" stroke="#c3c7d3" stroke-width="1" stroke-dasharray="2,2" opacity="1"/>
<line x1="602.5" y1="394" x2="602.5" y2="434" stroke="#c3c7d3" stroke-width="1" stroke-dasharray="2,2" opacity="1"/>
<line x1="623.5" y1="394" x2="623.5" y2="434" stroke="#c3c7d3" stroke-width="1" stroke-dasharray="2,2" opacity="1"/>
<line x1="650.5" y1="394" x2="650.5" y2="434" stroke="#c3c7d3" stroke-width="1" stroke-dasharray="2,2" opacity="1"/>
<line x1="671.5" y1="394" x2="671.5" y2="434" stroke="#c3c7d3" stroke-width="1" stroke-dasharray="2,2" opacity="1"/>
<line x1="692.5" y1="394" x2="692.5" y2="434" stroke="#c3c7d3" stroke-width="1" stroke-dasharray="2,2" opacity="1"/>
<line x1="718.5" y1="394" x2="718.5" y2="434" stroke="#c3c7d3" stroke-width="1" stroke-dasharray="2,2" opacity="1"/>
<line x1="24.5" y1="360" x2="24.5" y2="394" stroke="#ff7070" stroke-width="1" stroke-dasharray="2,2" opacity="0.35"/>
<line x1="45.5" y1="360" x2="45.5" y2="394" stroke="#ff7070" stroke-width="1" stroke-dasharray="2,2" opacity="0.35"/>
<line x1="71.5" y1="360" x2="71.5" y2="394" stroke="#ff7070" stroke-width="1" stroke-dasharray="2,2" opacity="0.35"/>
<line x1="92.5" y1="360" x2="92.5" y2="394" stroke="#ff7070" stroke-width="1" stroke-dasharray="2,2" opacity="0.35"/>
<line x1="118.5" y1="360" x2="118.5" y2="394" stroke="#ff7070" stroke-width="1" stroke-dasharray="2,2" opacity="0.35"/>
<line x1="140.5" y1="360" x2="140.5" y2="394" stroke="#ff7070" stroke-width="1" stroke-dasharray="2,2" opacity="0.35"/>
<line x1="162.5" y1="360" x2="162.5" y2="394" stroke="#ff7070" stroke-width="1" stroke-dasharray="2,2" opacity="0.35"/>
<line x1="188.5" y1="360" x2="188.5" y2="394" stroke="#ff7070" stroke-width="1" stroke-dasharray="2,2" opacity="0.35"/>
<line x1="210.5" y1="360" x2="210.5" y2="394" stroke="#ff7070" stroke-width="1" stroke-dasharray="2,2" opacity="0.35"/>
<line x1="230.5" y1="360" x2="230.5" y2="394" stroke="#ff7070" stroke-width="1" stroke-dasharray="2,2" opacity="0.35"/>
<line x1="257.5" y1="360" x2="257.5" y2="394" stroke="#ff7070" stroke-width="1" stroke-dasharray="2,2" opacity="0.35"/>
<line x1="278.5" y1="360" x2="278.5" y2="394" stroke="#ff7070" stroke-width="1" stroke-dasharray="2,2" opacity="0.35"/>
<line x1="299.5" y1="360" x2="299.5" y2="394" stroke="#ff7070" stroke-width="1" stroke-dasharray="2,2" opacity="0.35"/>
<line x1="326.5" y1="360" x2="326.5" y2="394" stroke="#ff7070" stroke-width="1" stroke-dasharray="2,2" opacity="0.35"/>
<line x1="346.5" y1="360" x2="346.5" y2="394" stroke="#ff7070" stroke-width="1" stroke-dasharray="2,2" opacity="0.35"/>
<line x1="369.5" y1="360" x2="369.5" y2="394" stroke="#ff7070" stroke-width="1" stroke-dasharray="2,2" opacity="0.35"/>
<line x1="396.5" y1="360" x2="396.5" y2="394" stroke="#ff7070" stroke-width="1" stroke-dasharray="2,2" opacity="0.35"/>
<line x1="416.5" y1="360" x2="416.5" y2="394" stroke="#ff7070" stroke-width="1" stroke-dasharray="2,2" opacity="0.35"/>
<line x1="442.5" y1="360" x2="442.5" y2="394" stroke="#ff7070" stroke-width="1" stroke-dasharray="2,2" opacity="0.35"/>
<line x1="464.5" y1="360" x2="464.5" y2="394" stroke="#ff7070" stroke-width="1" stroke-dasharray="2,2" opacity="0.35"/>
<line x1="485.5" y1="360" x2="485.5" y2="394" stroke="#ff7070" stroke-width="1" stroke-dasharray="2,2" opacity="0.35"/>
<line x1="506.5" y1="360" x2="506.5" y2="394" stroke="#ff7070" stroke-width="1" stroke-dasharray="2,2" opacity="0.35"/>
<line x1="533.5" y1="360" x2="533.5" y2="394" stroke="#ff7070" stroke-width="1" stroke-dasharray="2,2" opacity="0.35"/>
<line x1="554.5" y1="360" x2="554.5" y2="394" stroke="#ff7070" stroke-width="1" stroke-dasharray="2,2" opacity="0.35"/>
<line x1="575.5" y1="360" x2="575.5" y2="394" stroke="#ff7070" stroke-width="1" stroke-dasharray="2,2" opacity="0.35"/>
<line x1="602.5" y1="360" x2="602.5" y2="394" stroke="#ff7070" stroke-width="1" stroke-dasharray="2,2" opacity="0.35"/>
<line x1="623.5" y1="360" x2="623.5" y2="394" stroke="#ff7070" stroke-width="1" stroke-dasharray="2,2" opacity="0.35"/>
<line x1="650.5" y1="360" x2="650.5" y2="394" stroke="#ff7070" stroke-width="1" stroke-dasharray="2,2" opacity="0.35"/>
<line x1="671.5" y1="360" x2="671.5" y2="394" stroke="#ff7070" stroke-width="1" stroke-dasharray="2,2" opacity="0.35"/>
<line x1="692.5" y1="360" x2="692.5" y2="394" stroke="#ff7070" stroke-width="1" stroke-dasharray="2,2" opacity="0.35"/>
<line x1="718.5" y1="360" x2="718.5" y2="394" stroke="#ff7070" stroke-width="1" stroke-dasharray="2,2" opacity="0.35"/>
<line x1="24.5" y1="434" x2="24.5" y2="468" stroke="#4030e0" stroke-width="1" stroke-dasharray="2,2" opacity="0.6"/>
<line x1="45.5" y1="434" x2="45.5" y2="468" stroke="#4030e0" stroke-width="1" stroke-dasharray="2,2" opacity="0.6"/>
<line x1="71.5" y1="434" x2="71.5" y2="468" stroke="#4030e0" stroke-width="1" stroke-dasharray="2,2" opacity="0.6"/>
<line x1="92.5" y1="434" x2="92.5" y2="468" stroke="#4030e0" stroke-width="1" stroke-dasharray="2,2" opacity="0.6"/>
<line x1="118.5" y1="434" x2="118.5" y2="468" stroke="#4030e0" stroke-width="1" stroke-dasharray="2,2" opacity="0.6"/>
<line x1="140.5" y1="434" x2="140.5" y2="468" stroke="#4030e0" stroke-width="1" stroke-dasharray="2,2" opacity="0.6"/>
<line x1="162.5" y1="434" x2="162.5" y2="468" stroke="#4030e0" stroke-width="1" stroke-dasharray="2,2" opacity="0.6"/>
<line x1="188.5" y1="434" x2="188.5" y2="468" stroke="#4030e0" stroke-width="1" stroke-dasharray="2,2" opacity="0.6"/>
<line x1="210.5" y1="434" x2="210.5" y2="468" stroke="#4030e0" stroke-width="1" stroke-dasharray="2,2" opacity="0.6"/>
<line x1="230.5" y1="434" x2="230.5" y2="468" stroke="#4030e0" stroke-width="1" stroke-dasharray="2,2" opacity="0.6"/>
<line x1="257.5" y1="434" x2="257.5" y2="468" stroke="#4030e0" stroke-width="1" stroke-dasharray="2,2" opacity="0.6"/>
<line x1="278.5" y1="434" x2="278.5" y2="468" stroke="#4030e0" stroke-width="1" stroke-dasharray="2,2" opacity="0.6"/>
<line x1="299.5" y1="434" x2="299.5" y2="468" stroke="#4030e0" stroke-width="1" stroke-dasharray="2,2" opacity="0.6"/>
<line x1="326.5" y1="434" x2="326.5" y2="468" stroke="#4030e0" stroke-width="1" stroke-dasharray="2,2" opacity="0.6"/>
<line x1="346.5" y1="434" x2="346.5" y2="468" stroke="#4030e0" stroke-width="1" stroke-dasharray="2,2" opacity="0.6"/>
<line x1="369.5" y1="434" x2="369.5" y2="468" stroke="#4030e0" stroke-width="1" stroke-dasharray="2,2" opacity="0.6"/>
<line x1="396.5" y1="434" x2="396.5" y2="468" stroke="#4030e0" stroke-width="1" stroke-dasharray="2,2" opacity="0.6"/>
<line x1="416.5" y1="434" x2="416.5" y2="468" stroke="#4030e0" stroke-width="1" stroke-dasharray="2,2" opacity="0.6"/>
<line x1="442.5" y1="434" x2="442.5" y2="468" stroke="#4030e0" stroke-width="1" stroke-dasharray="2,2" opacity="0.6"/>
<line x1="464.5" y1="434" x2="464.5" y2="468" stroke="#4030e0" stroke-width="1" stroke-dasharray="2,2" opacity="0.6"/>
<line x1="485.5" y1="434" x2="485.5" y2="468" stroke="#4030e0" stroke-width="1" stroke-dasharray="2,2" opacity="0.6"/>
<line x1="506.5" y1="434" x2="506.5" y2="468" stroke="#4030e0" stroke-width="1" stroke-dasharray="2,2" opacity="0.6"/>
<line x1="533.5" y1="434" x2="533.5" y2="468" stroke="#4030e0" stroke-width="1" stroke-dasharray="2,2" opacity="0.6"/>
<line x1="554.5" y1="434" x2="554.5" y2="468" stroke="#4030e0" stroke-width="1" stroke-dasharray="2,2" opacity="0.6"/>
<line x1="575.5" y1="434" x2="575.5" y2="468" stroke="#4030e0" stroke-width="1" stroke-dasharray="2,2" opacity="0.6"/>
<line x1="602.5" y1="434" x2="602.5" y2="468" stroke="#4030e0" stroke-width="1" stroke-dasharray="2,2" opacity="0.6"/>
<line x1="623.5" y1="434" x2="623.5" y2="468" stroke="#4030e0" stroke-width="1" stroke-dasharray="2,2" opacity="0.6"/>
<line x1="650.5" y1="434" x2="650.5" y2="468" stroke="#4030e0" stroke-width="1" stroke-dasharray="2,2" opacity="0.6"/>
<line x1="671.5" y1="434" x2="671.5" y2="468" stroke="#4030e0" stroke-width="1" stroke-dasharray="2,2" opacity="0.6"/>
<line x1="692.5" y1="434" x2="692.5" y2="468" stroke="#4030e0" stroke-width="1" stroke-dasharray="2,2" opacity="0.6"/>
<line x1="718.5" y1="434" x2="718.5" y2="468" stroke="#4030e0" stroke-width="1" stroke-dasharray="2,2" opacity="0.6"/>
<line x1="17" y1="404.5" x2="736" y2="404.5" stroke="#c3c7d3" stroke-width="1" stroke-dasharray="2,2" opacity="1"/>
<line x1="17" y1="424.5" x2="736" y2="424.5" stroke="#c3c7d3" stroke-width="1" stroke-dasharray="2,2" opacity="1"/>
<line x1="17" y1="375.5" x2="736" y2="375.5" stroke="#a00000" stroke-width="1" stroke-dasharray="2,2" opacity="0.45"/>
<line x1="17" y1="385.5" x2="736" y2="385.5" stroke="#a00000" stroke-width="1" stroke-dasharray="2,2" opacity="0.45"/>
<line x1="17" y1="443.5" x2="736" y2="443.5" stroke="#4030e0" stroke-width="1" stroke-dasharray="2,2" opacity="0.6"/>
<line x1="17" y1="453.5" x2="736" y2="453.5" stroke="#4030e0" stroke-width="1" stroke-dasharray="2,2" opacity="0.6"/>
<g clip-path="url(#cr)"><polygon points="16.9,394 16.9,425.3 18.8,426.8 24.1,405.1 29.4,393.2 34.7,389.7 40,384.9 45.3,381.1 50.6,375.3 55.9,371.8 61.2,380.7 66.5,377.2 71.8,386.8 77.1,400 82.4,428.8 87.7,432.6 93,429.5 98.3,419.5 103.6,426.3 108.9,405.1 114.2,403.6 119.5,397.4 124.8,413.8 130.1,422 135.4,408.4 140.7,417.6 146,432 151.3,430.5 156.6,435.9 161.9,421.3 167.2,414.7 172.5,409 177.8,396.5 183.1,397.4 188.4,400.3 193.7,399 199,388.4 204.3,413.8 209.6,414.2 214.9,428.2 220.2,428.2 225.5,424.3 230.8,434.9 236.1,420.5 241.4,426.3 246.7,416.7 252,424.3 257.3,438.8 262.6,434 267.9,436.8 273.2,414.7 278.5,423.4 283.8,410.3 289.1,426.3 294.4,417.8 299.7,421.2 305,420.5 310.3,422 315.6,404.2 320.9,410.3 326.2,404.2 331.5,407 336.8,388.8 342.1,384 347.4,379.2 352.7,375.7 358,375.7 363.3,377.2 368.6,376.3 373.9,389.7 379.2,414.7 384.5,423.4 389.8,434 395.1,409 400.4,415.7 405.7,403.6 411,415.7 416.3,419.5 421.6,425.3 426.9,434.5 432.2,434 437.5,433.4 442.8,428.8 448.1,412.4 453.4,426.8 458.7,420.1 464,419.2 469.3,440.7 474.6,447.4 479.9,447.4 485.2,447.4 490.5,432 495.8,418.6 501.1,424.3 506.4,433.6 511.7,449.3 517,454.2 522.3,432 527.6,429.2 532.9,432 538.2,444.5 543.5,434.5 548.8,433.6 554.1,434 559.4,431.7 564.7,445.5 570,450.3 575.3,452.6 580.6,423.8 585.9,420.5 591.2,410.6 596.5,412.7 596.5,394" fill="#9966aa"/></g>
<g clip-path="url(#cb)"><polygon points="16.9,434 16.9,425.3 18.8,426.8 24.1,405.1 29.4,393.2 34.7,389.7 40,384.9 45.3,381.1 50.6,375.3 55.9,371.8 61.2,380.7 66.5,377.2 71.8,386.8 77.1,400 82.4,428.8 87.7,432.6 93,429.5 98.3,419.5 103.6,426.3 108.9,405.1 114.2,403.6 119.5,397.4 124.8,413.8 130.1,422 135.4,408.4 140.7,417.6 146,432 151.3,430.5 156.6,435.9 161.9,421.3 167.2,414.7 172.5,409 177.8,396.5 183.1,397.4 188.4,400.3 193.7,399 199,388.4 204.3,413.8 209.6,414.2 214.9,428.2 220.2,428.2 225.5,424.3 230.8,434.9 236.1,420.5 241.4,426.3 246.7,416.7 252,424.3 257.3,438.8 262.6,434 267.9,436.8 273.2,414.7 278.5,423.4 283.8,410.3 289.1,426.3 294.4,417.8 299.7,421.2 305,420.5 310.3,422 315.6,404.2 320.9,410.3 326.2,404.2 331.5,407 336.8,388.8 342.1,384 347.4,379.2 352.7,375.7 358,375.7 363.3,377.2 368.6,376.3 373.9,389.7 379.2,414.7 384.5,423.4 389.8,434 395.1,409 400.4,415.7 405.7,403.6 411,415.7 416.3,419.5 421.6,425.3 426.9,434.5 432.2,434 437.5,433.4 442.8,428.8 448.1,412.4 453.4,426.8 458.7,420.1 464,419.2 469.3,440.7 474.6,447.4 479.9,447.4 485.2,447.4 490.5,432 495.8,418.6 501.1,424.3 506.4,433.6 511.7,449.3 517,454.2 522.3,432 527.6,429.2 532.9,432 538.2,444.5 543.5,434.5 548.8,433.6 554.1,434 559.4,431.7 564.7,445.5 570,450.3 575.3,452.6 580.6,423.8 585.9,420.5 591.2,410.6 596.5,412.7 596.5,434" fill="#6b9a6b"/></g>
<clipPath id="cpurp"><polygon points="16.9,394 16.9,425.3 18.8,426.8 24.1,405.1 29.4,393.2 34.7,389.7 40,384.9 45.3,381.1 50.6,375.3 55.9,371.8 61.2,380.7 66.5,377.2 71.8,386.8 77.1,400 82.4,428.8 87.7,432.6 93,429.5 98.3,419.5 103.6,426.3 108.9,405.1 114.2,403.6 119.5,397.4 124.8,413.8 130.1,422 135.4,408.4 140.7,417.6 146,432 151.3,430.5 156.6,435.9 161.9,421.3 167.2,414.7 172.5,409 177.8,396.5 183.1,397.4 188.4,400.3 193.7,399 199,388.4 204.3,413.8 209.6,414.2 214.9,428.2 220.2,428.2 225.5,424.3 230.8,434.9 236.1,420.5 241.4,426.3 246.7,416.7 252,424.3 257.3,438.8 262.6,434 267.9,436.8 273.2,414.7 278.5,423.4 283.8,410.3 289.1,426.3 294.4,417.8 299.7,421.2 305,420.5 310.3,422 315.6,404.2 320.9,410.3 326.2,404.2 331.5,407 336.8,388.8 342.1,384 347.4,379.2 352.7,375.7 358,375.7 363.3,377.2 368.6,376.3 373.9,389.7 379.2,414.7 384.5,423.4 389.8,434 395.1,409 400.4,415.7 405.7,403.6 411,415.7 416.3,419.5 421.6,425.3 426.9,434.5 432.2,434 437.5,433.4 442.8,428.8 448.1,412.4 453.4,426.8 458.7,420.1 464,419.2 469.3,440.7 474.6,447.4 479.9,447.4 485.2,447.4 490.5,432 495.8,418.6 501.1,424.3 506.4,433.6 511.7,449.3 517,454.2 522.3,432 527.6,429.2 532.9,432 538.2,444.5 543.5,434.5 548.8,433.6 554.1,434 559.4,431.7 564.7,445.5 570,450.3 575.3,452.6 580.6,423.8 585.9,420.5 591.2,410.6 596.5,412.7 596.5,394"/></clipPath>
<g clip-path="url(#cr)"><g clip-path="url(#cpurp)">
<line x1="24.5" y1="360" x2="24.5" y2="394" stroke="#5a5ae6" stroke-width="1" stroke-dasharray="2,2" opacity="0.9"/>
<line x1="45.5" y1="360" x2="45.5" y2="394" stroke="#5a5ae6" stroke-width="1" stroke-dasharray="2,2" opacity="0.9"/>
<line x1="71.5" y1="360" x2="71.5" y2="394" stroke="#5a5ae6" stroke-width="1" stroke-dasharray="2,2" opacity="0.9"/>
<line x1="92.5" y1="360" x2="92.5" y2="394" stroke="#5a5ae6" stroke-width="1" stroke-dasharray="2,2" opacity="0.9"/>
<line x1="118.5" y1="360" x2="118.5" y2="394" stroke="#5a5ae6" stroke-width="1" stroke-dasharray="2,2" opacity="0.9"/>
<line x1="140.5" y1="360" x2="140.5" y2="394" stroke="#5a5ae6" stroke-width="1" stroke-dasharray="2,2" opacity="0.9"/>
<line x1="162.5" y1="360" x2="162.5" y2="394" stroke="#5a5ae6" stroke-width="1" stroke-dasharray="2,2" opacity="0.9"/>
<line x1="188.5" y1="360" x2="188.5" y2="394" stroke="#5a5ae6" stroke-width="1" stroke-dasharray="2,2" opacity="0.9"/>
<line x1="210.5" y1="360" x2="210.5" y2="394" stroke="#5a5ae6" stroke-width="1" stroke-dasharray="2,2" opacity="0.9"/>
<line x1="230.5" y1="360" x2="230.5" y2="394" stroke="#5a5ae6" stroke-width="1" stroke-dasharray="2,2" opacity="0.9"/>
<line x1="257.5" y1="360" x2="257.5" y2="394" stroke="#5a5ae6" stroke-width="1" stroke-dasharray="2,2" opacity="0.9"/>
<line x1="278.5" y1="360" x2="278.5" y2="394" stroke="#5a5ae6" stroke-width="1" stroke-dasharray="2,2" opacity="0.9"/>
<line x1="299.5" y1="360" x2="299.5" y2="394" stroke="#5a5ae6" stroke-width="1" stroke-dasharray="2,2" opacity="0.9"/>
<line x1="326.5" y1="360" x2="326.5" y2="394" stroke="#5a5ae6" stroke-width="1" stroke-dasharray="2,2" opacity="0.9"/>
<line x1="346.5" y1="360" x2="346.5" y2="394" stroke="#5a5ae6" stroke-width="1" stroke-dasharray="2,2" opacity="0.9"/>
<line x1="369.5" y1="360" x2="369.5" y2="394" stroke="#5a5ae6" stroke-width="1" stroke-dasharray="2,2" opacity="0.9"/>
<line x1="396.5" y1="360" x2="396.5" y2="394" stroke="#5a5ae6" stroke-width="1" stroke-dasharray="2,2" opacity="0.9"/>
<line x1="416.5" y1="360" x2="416.5" y2="394" stroke="#5a5ae6" stroke-width="1" stroke-dasharray="2,2" opacity="0.9"/>
<line x1="442.5" y1="360" x2="442.5" y2="394" stroke="#5a5ae6" stroke-width="1" stroke-dasharray="2,2" opacity="0.9"/>
<line x1="464.5" y1="360" x2="464.5" y2="394" stroke="#5a5ae6" stroke-width="1" stroke-dasharray="2,2" opacity="0.9"/>
<line x1="485.5" y1="360" x2="485.5" y2="394" stroke="#5a5ae6" stroke-width="1" stroke-dasharray="2,2" opacity="0.9"/>
<line x1="506.5" y1="360" x2="506.5" y2="394" stroke="#5a5ae6" stroke-width="1" stroke-dasharray="2,2" opacity="0.9"/>
<line x1="533.5" y1="360" x2="533.5" y2="394" stroke="#5a5ae6" stroke-width="1" stroke-dasharray="2,2" opacity="0.9"/>
<line x1="554.5" y1="360" x2="554.5" y2="394" stroke="#5a5ae6" stroke-width="1" stroke-dasharray="2,2" opacity="0.9"/>
<line x1="575.5" y1="360" x2="575.5" y2="394" stroke="#5a5ae6" stroke-width="1" stroke-dasharray="2,2" opacity="0.9"/>
<line x1="602.5" y1="360" x2="602.5" y2="394" stroke="#5a5ae6" stroke-width="1" stroke-dasharray="2,2" opacity="0.9"/>
<line x1="623.5" y1="360" x2="623.5" y2="394" stroke="#5a5ae6" stroke-width="1" stroke-dasharray="2,2" opacity="0.9"/>
<line x1="650.5" y1="360" x2="650.5" y2="394" stroke="#5a5ae6" stroke-width="1" stroke-dasharray="2,2" opacity="0.9"/>
<line x1="671.5" y1="360" x2="671.5" y2="394" stroke="#5a5ae6" stroke-width="1" stroke-dasharray="2,2" opacity="0.9"/>
<line x1="692.5" y1="360" x2="692.5" y2="394" stroke="#5a5ae6" stroke-width="1" stroke-dasharray="2,2" opacity="0.9"/>
<line x1="718.5" y1="360" x2="718.5" y2="394" stroke="#5a5ae6" stroke-width="1" stroke-dasharray="2,2" opacity="0.9"/>
<line x1="17" y1="375.5" x2="736" y2="375.5" stroke="#5a5ae6" stroke-width="1" stroke-dasharray="2,2" opacity="0.9"/>
<line x1="17" y1="385.5" x2="736" y2="385.5" stroke="#5a5ae6" stroke-width="1" stroke-dasharray="2,2" opacity="0.9"/>
</g></g>
<line x1="17" y1="394.5" x2="736" y2="394.5" stroke="#000" stroke-width="1"/>
<line x1="17" y1="414.5" x2="736" y2="414.5" stroke="#000" stroke-width="1.2" stroke-dasharray="8,3,2,3"/>
<line x1="17" y1="433.5" x2="736" y2="433.5" stroke="#f0c020" stroke-width="1.2"/>
<polyline points="16.9,425.3 18.8,426.8 24.1,405.1 29.4,393.2 34.7,389.7 40,384.9 45.3,381.1 50.6,375.3 55.9,371.8 61.2,380.7 66.5,377.2 71.8,386.8 77.1,400 82.4,428.8 87.7,432.6 93,429.5 98.3,419.5 103.6,426.3 108.9,405.1 114.2,403.6 119.5,397.4 124.8,413.8 130.1,422 135.4,408.4 140.7,417.6 146,432 151.3,430.5 156.6,435.9 161.9,421.3 167.2,414.7 172.5,409 177.8,396.5 183.1,397.4 188.4,400.3 193.7,399 199,388.4 204.3,413.8 209.6,414.2 214.9,428.2 220.2,428.2 225.5,424.3 230.8,434.9 236.1,420.5 241.4,426.3 246.7,416.7 252,424.3 257.3,438.8 262.6,434 267.9,436.8 273.2,414.7 278.5,423.4 283.8,410.3 289.1,426.3 294.4,417.8 299.7,421.2 305,420.5 310.3,422 315.6,404.2 320.9,410.3 326.2,404.2 331.5,407 336.8,388.8 342.1,384 347.4,379.2 352.7,375.7 358,375.7 363.3,377.2 368.6,376.3 373.9,389.7 379.2,414.7 384.5,423.4 389.8,434 395.1,409 400.4,415.7 405.7,403.6 411,415.7 416.3,419.5 421.6,425.3 426.9,434.5 432.2,434 437.5,433.4 442.8,428.8 448.1,412.4 453.4,426.8 458.7,420.1 464,419.2 469.3,440.7 474.6,447.4 479.9,447.4 485.2,447.4 490.5,432 495.8,418.6 501.1,424.3 506.4,433.6 511.7,449.3 517,454.2 522.3,432 527.6,429.2 532.9,432 538.2,444.5 543.5,434.5 548.8,433.6 554.1,434 559.4,431.7 564.7,445.5 570,450.3 575.3,452.6 580.6,423.8 585.9,420.5 591.2,410.6 596.5,412.7" fill="none" stroke="#2e3f5c" stroke-width="1.2" stroke-linejoin="round"/>
<g clip-path="url(#cr)"><polyline points="16.9,425.3 18.8,426.8 24.1,405.1 29.4,393.2 34.7,389.7 40,384.9 45.3,381.1 50.6,375.3 55.9,371.8 61.2,380.7 66.5,377.2 71.8,386.8 77.1,400 82.4,428.8 87.7,432.6 93,429.5 98.3,419.5 103.6,426.3 108.9,405.1 114.2,403.6 119.5,397.4 124.8,413.8 130.1,422 135.4,408.4 140.7,417.6 146,432 151.3,430.5 156.6,435.9 161.9,421.3 167.2,414.7 172.5,409 177.8,396.5 183.1,397.4 188.4,400.3 193.7,399 199,388.4 204.3,413.8 209.6,414.2 214.9,428.2 220.2,428.2 225.5,424.3 230.8,434.9 236.1,420.5 241.4,426.3 246.7,416.7 252,424.3 257.3,438.8 262.6,434 267.9,436.8 273.2,414.7 278.5,423.4 283.8,410.3 289.1,426.3 294.4,417.8 299.7,421.2 305,420.5 310.3,422 315.6,404.2 320.9,410.3 326.2,404.2 331.5,407 336.8,388.8 342.1,384 347.4,379.2 352.7,375.7 358,375.7 363.3,377.2 368.6,376.3 373.9,389.7 379.2,414.7 384.5,423.4 389.8,434 395.1,409 400.4,415.7 405.7,403.6 411,415.7 416.3,419.5 421.6,425.3 426.9,434.5 432.2,434 437.5,433.4 442.8,428.8 448.1,412.4 453.4,426.8 458.7,420.1 464,419.2 469.3,440.7 474.6,447.4 479.9,447.4 485.2,447.4 490.5,432 495.8,418.6 501.1,424.3 506.4,433.6 511.7,449.3 517,454.2 522.3,432 527.6,429.2 532.9,432 538.2,444.5 543.5,434.5 548.8,433.6 554.1,434 559.4,431.7 564.7,445.5 570,450.3 575.3,452.6 580.6,423.8 585.9,420.5 591.2,410.6 596.5,412.7" fill="none" stroke="#4f8fc8" stroke-width="1.3"/></g>
<g clip-path="url(#cb)"><polyline points="16.9,425.3 18.8,426.8 24.1,405.1 29.4,393.2 34.7,389.7 40,384.9 45.3,381.1 50.6,375.3 55.9,371.8 61.2,380.7 66.5,377.2 71.8,386.8 77.1,400 82.4,428.8 87.7,432.6 93,429.5 98.3,419.5 103.6,426.3 108.9,405.1 114.2,403.6 119.5,397.4 124.8,413.8 130.1,422 135.4,408.4 140.7,417.6 146,432 151.3,430.5 156.6,435.9 161.9,421.3 167.2,414.7 172.5,409 177.8,396.5 183.1,397.4 188.4,400.3 193.7,399 199,388.4 204.3,413.8 209.6,414.2 214.9,428.2 220.2,428.2 225.5,424.3 230.8,434.9 236.1,420.5 241.4,426.3 246.7,416.7 252,424.3 257.3,438.8 262.6,434 267.9,436.8 273.2,414.7 278.5,423.4 283.8,410.3 289.1,426.3 294.4,417.8 299.7,421.2 305,420.5 310.3,422 315.6,404.2 320.9,410.3 326.2,404.2 331.5,407 336.8,388.8 342.1,384 347.4,379.2 352.7,375.7 358,375.7 363.3,377.2 368.6,376.3 373.9,389.7 379.2,414.7 384.5,423.4 389.8,434 395.1,409 400.4,415.7 405.7,403.6 411,415.7 416.3,419.5 421.6,425.3 426.9,434.5 432.2,434 437.5,433.4 442.8,428.8 448.1,412.4 453.4,426.8 458.7,420.1 464,419.2 469.3,440.7 474.6,447.4 479.9,447.4 485.2,447.4 490.5,432 495.8,418.6 501.1,424.3 506.4,433.6 511.7,449.3 517,454.2 522.3,432 527.6,429.2 532.9,432 538.2,444.5 543.5,434.5 548.8,433.6 554.1,434 559.4,431.7 564.7,445.5 570,450.3 575.3,452.6 580.6,423.8 585.9,420.5 591.2,410.6 596.5,412.7" fill="none" stroke="#e8d838" stroke-width="1.2"/></g>
<polygon points="19,370 19,367 21.5,361.5 24,366 26,362.5 28,366 28,370" fill="#9966aa" stroke="#5a9ad0" stroke-width="0.6"/>
<text x="31.9" y="370" font-family="DejaVu Sans, Verdana, sans-serif" font-size="9.8" fill="#00ffff" textLength="71.6" lengthAdjust="spacingAndGlyphs">RSI(5) 51.72</text>
<text x="326.7" y="383" font-family="Liberation Sans, Arial, sans-serif" font-size="15.6" fill="#fff" font-weight="bold" textLength="68.3" lengthAdjust="spacingAndGlyphs">Sell Zone</text>
<text x="321.5" y="459" font-family="Liberation Sans, Arial, sans-serif" font-size="15.6" fill="#fff" font-weight="bold" textLength="71.5" lengthAdjust="spacingAndGlyphs">Buy Zone</text>
<line x1="384.4" y1="398.4" x2="591.3" y2="434" stroke="#ff0000" stroke-width="1.8"/>
<rect x="736" y="360" width="2.5" height="34" fill="#28b898"/>
<rect x="736" y="434" width="2.5" height="34" fill="#f0a080"/>
<line x1="16" y1="469.5" x2="737" y2="469.5" stroke="#0a1a50" stroke-width="1"/>
<line x1="24.5" y1="470" x2="24.5" y2="579" stroke="#c3c7d3" stroke-width="1" stroke-dasharray="2,2" opacity="1"/>
<line x1="45.5" y1="470" x2="45.5" y2="579" stroke="#c3c7d3" stroke-width="1" stroke-dasharray="2,2" opacity="1"/>
<line x1="71.5" y1="470" x2="71.5" y2="579" stroke="#c3c7d3" stroke-width="1" stroke-dasharray="2,2" opacity="1"/>
<line x1="92.5" y1="470" x2="92.5" y2="579" stroke="#c3c7d3" stroke-width="1" stroke-dasharray="2,2" opacity="1"/>
<line x1="118.5" y1="470" x2="118.5" y2="579" stroke="#c3c7d3" stroke-width="1" stroke-dasharray="2,2" opacity="1"/>
<line x1="140.5" y1="470" x2="140.5" y2="579" stroke="#c3c7d3" stroke-width="1" stroke-dasharray="2,2" opacity="1"/>
<line x1="162.5" y1="470" x2="162.5" y2="579" stroke="#c3c7d3" stroke-width="1" stroke-dasharray="2,2" opacity="1"/>
<line x1="188.5" y1="470" x2="188.5" y2="579" stroke="#c3c7d3" stroke-width="1" stroke-dasharray="2,2" opacity="1"/>
<line x1="210.5" y1="470" x2="210.5" y2="579" stroke="#c3c7d3" stroke-width="1" stroke-dasharray="2,2" opacity="1"/>
<line x1="230.5" y1="470" x2="230.5" y2="579" stroke="#c3c7d3" stroke-width="1" stroke-dasharray="2,2" opacity="1"/>
<line x1="257.5" y1="470" x2="257.5" y2="579" stroke="#c3c7d3" stroke-width="1" stroke-dasharray="2,2" opacity="1"/>
<line x1="278.5" y1="470" x2="278.5" y2="579" stroke="#c3c7d3" stroke-width="1" stroke-dasharray="2,2" opacity="1"/>
<line x1="299.5" y1="470" x2="299.5" y2="579" stroke="#c3c7d3" stroke-width="1" stroke-dasharray="2,2" opacity="1"/>
<line x1="326.5" y1="470" x2="326.5" y2="579" stroke="#c3c7d3" stroke-width="1" stroke-dasharray="2,2" opacity="1"/>
<line x1="346.5" y1="470" x2="346.5" y2="579" stroke="#c3c7d3" stroke-width="1" stroke-dasharray="2,2" opacity="1"/>
<line x1="369.5" y1="470" x2="369.5" y2="579" stroke="#c3c7d3" stroke-width="1" stroke-dasharray="2,2" opacity="1"/>
<line x1="396.5" y1="470" x2="396.5" y2="579" stroke="#c3c7d3" stroke-width="1" stroke-dasharray="2,2" opacity="1"/>
<line x1="416.5" y1="470" x2="416.5" y2="579" stroke="#c3c7d3" stroke-width="1" stroke-dasharray="2,2" opacity="1"/>
<line x1="442.5" y1="470" x2="442.5" y2="579" stroke="#c3c7d3" stroke-width="1" stroke-dasharray="2,2" opacity="1"/>
<line x1="464.5" y1="470" x2="464.5" y2="579" stroke="#c3c7d3" stroke-width="1" stroke-dasharray="2,2" opacity="1"/>
<line x1="485.5" y1="470" x2="485.5" y2="579" stroke="#c3c7d3" stroke-width="1" stroke-dasharray="2,2" opacity="1"/>
<line x1="506.5" y1="470" x2="506.5" y2="579" stroke="#c3c7d3" stroke-width="1" stroke-dasharray="2,2" opacity="1"/>
<line x1="533.5" y1="470" x2="533.5" y2="579" stroke="#c3c7d3" stroke-width="1" stroke-dasharray="2,2" opacity="1"/>
<line x1="554.5" y1="470" x2="554.5" y2="579" stroke="#c3c7d3" stroke-width="1" stroke-dasharray="2,2" opacity="1"/>
<line x1="575.5" y1="470" x2="575.5" y2="579" stroke="#c3c7d3" stroke-width="1" stroke-dasharray="2,2" opacity="1"/>
<line x1="602.5" y1="470" x2="602.5" y2="579" stroke="#c3c7d3" stroke-width="1" stroke-dasharray="2,2" opacity="1"/>
<line x1="623.5" y1="470" x2="623.5" y2="579" stroke="#c3c7d3" stroke-width="1" stroke-dasharray="2,2" opacity="1"/>
<line x1="650.5" y1="470" x2="650.5" y2="579" stroke="#c3c7d3" stroke-width="1" stroke-dasharray="2,2" opacity="1"/>
<line x1="671.5" y1="470" x2="671.5" y2="579" stroke="#c3c7d3" stroke-width="1" stroke-dasharray="2,2" opacity="1"/>
<line x1="692.5" y1="470" x2="692.5" y2="579" stroke="#c3c7d3" stroke-width="1" stroke-dasharray="2,2" opacity="1"/>
<line x1="718.5" y1="470" x2="718.5" y2="579" stroke="#c3c7d3" stroke-width="1" stroke-dasharray="2,2" opacity="1"/>
<line x1="17" y1="477.5" x2="736" y2="477.5" stroke="#c3c7d3" stroke-width="1" stroke-dasharray="2,2" opacity="1"/>
<line x1="17" y1="486.5" x2="736" y2="486.5" stroke="#c3c7d3" stroke-width="1" stroke-dasharray="2,2" opacity="1"/>
<line x1="17" y1="505.5" x2="736" y2="505.5" stroke="#c3c7d3" stroke-width="1" stroke-dasharray="2,2" opacity="1"/>
<line x1="17" y1="515.5" x2="736" y2="515.5" stroke="#c3c7d3" stroke-width="1" stroke-dasharray="2,2" opacity="1"/>
<line x1="17" y1="534.5" x2="736" y2="534.5" stroke="#c3c7d3" stroke-width="1" stroke-dasharray="2,2" opacity="1"/>
<line x1="17" y1="543.5" x2="736" y2="543.5" stroke="#c3c7d3" stroke-width="1" stroke-dasharray="2,2" opacity="1"/>
<line x1="17" y1="562.5" x2="736" y2="562.5" stroke="#c3c7d3" stroke-width="1" stroke-dasharray="2,2" opacity="1"/>
<line x1="17" y1="571.5" x2="736" y2="571.5" stroke="#c3c7d3" stroke-width="1" stroke-dasharray="2,2" opacity="1"/>
<line x1="17" y1="495.5" x2="736" y2="495.5" stroke="#000" stroke-width="1"/>
<line x1="17" y1="552.5" x2="736" y2="552.5" stroke="#000" stroke-width="1"/>
<line x1="17" y1="524.5" x2="736" y2="524.5" stroke="#000" stroke-width="1.2" stroke-dasharray="8,3,2,3"/>
<g clip-path="url(#csto)" fill="none" stroke-linejoin="round">
<polyline points="16.9,502.5 18.8,505 24.1,511.2 29.4,511.7 34.7,502.2 40,491.1 45.3,484.7 50.6,483.9 55.9,485.6 61.2,487.8 66.5,488.1 71.8,488.5 77.1,488.5 82.4,494.2 87.7,504.8 93,520.2 98.3,531.4 103.6,537.6 108.9,536.3 114.2,532.8 119.5,524.7 124.8,519.9 130.1,518.7 135.4,522.4 140.7,525.6 146,529.4 151.3,534.9 156.6,543 161.9,547.7 167.2,547.7 172.5,540.5 177.8,530.1 183.1,518.2 188.4,508.5 193.7,503 199,499.1 204.3,497.1 209.6,495.5 214.9,500.4 220.2,507.6 225.5,516.9 230.8,523.7 236.1,530.4 241.4,538.5 246.7,544.6 252,549.8 257.3,552.5 262.6,555.4 267.9,556.8 273.2,554 278.5,549.2 283.8,541 289.1,536.6 294.4,533.4 299.7,535.3 305,535.3 310.3,536.1 315.6,532.2 320.9,527.9 326.2,518.9 331.5,511.3 336.8,500.6 342.1,492.6 347.4,484.4 352.7,480.8 358,479.2 363.3,479.6 368.6,480.4 373.9,482.2 379.2,486.8 384.5,494.8 389.8,504.9 395.1,512.3 400.4,516.2 405.7,513.5 411,512.4 416.3,514.4 421.6,525.9 426.9,539.2 432.2,550.4 437.5,555.5 442.8,555.8 448.1,551.4 453.4,545.9 458.7,540.7 464,540.7 469.3,543.4 474.6,549 479.9,555.1 485.2,558.7 490.5,558.9 495.8,554.9 501.1,549.5 506.4,545.1 511.7,546.5 517,550.5 522.3,553.8 527.6,549 532.9,542.6 538.2,539.8 543.5,543.7 548.8,549.7 554.1,552.2 559.4,552.2 564.7,552.2 570,554.4 575.3,558.6 580.6,559.6 585.9,555.8 591.2,546.6 596.5,538.4" stroke="#7a2434" stroke-width="1"/>
<polyline points="16.9,513.1 18.8,516.5 24.1,516 29.4,502.5 34.7,488.1 40,482.7 45.3,483.3 50.6,485.8 55.9,487.7 61.2,490 66.5,486.5 71.8,489 77.1,490 82.4,503.5 87.7,520.8 93,536.2 98.3,537.1 103.6,539.6 108.9,532.3 114.2,526.5 119.5,515.4 124.8,517.9 130.1,522.7 135.4,526.5 140.7,527.5 146,534.2 151.3,542.9 156.6,551.9 161.9,548.2 167.2,542.9 172.5,530.4 177.8,516.9 183.1,507.3 188.4,501.2 193.7,500.6 199,495.4 204.3,495.2 209.6,495.8 214.9,510.2 220.2,516.9 225.5,523.7 230.8,530.4 236.1,537.1 241.4,548.1 246.7,548.7 252,552.5 257.3,556.3 262.6,557.3 267.9,556.9 273.2,547.7 278.5,542.9 283.8,532.3 289.1,534.6 294.4,533.3 299.7,537.9 305,534.6 310.3,535.8 315.6,526.2 320.9,521.7 326.2,508.8 331.5,503.5 336.8,489.6 342.1,484.8 347.4,478.8 352.7,478.8 358,480 363.3,480 368.6,481.3 373.9,485.2 379.2,493.8 384.5,505.4 389.8,515.4 395.1,516.2 400.4,516.9 405.7,507.3 411,513.1 416.3,522.7 421.6,541.9 426.9,553.1 432.2,556.3 437.5,557.1 442.8,554.1 448.1,542.9 453.4,540.6 458.7,538.5 464,542.9 469.3,548.7 474.6,555.4 479.9,561.2 485.2,559.6 490.5,555.8 495.8,549.2 501.1,543.5 506.4,542.5 511.7,553.5 517,555.4 522.3,552.5 527.6,539 532.9,536.2 538.2,544.2 543.5,550.6 548.8,554.4 554.1,551.5 559.4,550.6 564.7,554.4 570,558.3 575.3,563 580.6,557.5 585.9,546.8 591.2,535.5 596.5,529.5" stroke="#1e3050" stroke-width="1.7"/>
</g>
<rect x="17" y="470" width="230" height="12" fill="#fff"/>
<line x1="19" y1="476" x2="28" y2="476" stroke="#1e3050" stroke-width="2"/>
<text x="31.7" y="479.9" font-family="DejaVu Sans, Verdana, sans-serif" font-size="9.7" fill="#000" textLength="137.3" lengthAdjust="spacing">Slow STO %K(14) %D(3)</text>
<text x="172.7" y="479.9" font-family="DejaVu Sans, Verdana, sans-serif" font-size="9.7" fill="#1e3050" textLength="34" lengthAdjust="spacing">44.62,</text>
<text x="212.3" y="479.9" font-family="DejaVu Sans, Verdana, sans-serif" font-size="9.7" fill="#6a2030" textLength="31" lengthAdjust="spacing">35.02</text>
<polyline points="426.7,537.3 498.5,537.3 498.5,536.3 617.8,535.5" fill="none" stroke="#ff0000" stroke-width="1.8"/>
<line x1="16" y1="579.5" x2="737" y2="579.5" stroke="#0a1a50" stroke-width="1"/>
<line x1="24.5" y1="580" x2="24.5" y2="689" stroke="#c3c7d3" stroke-width="1" stroke-dasharray="2,2" opacity="1"/>
<line x1="45.5" y1="580" x2="45.5" y2="689" stroke="#c3c7d3" stroke-width="1" stroke-dasharray="2,2" opacity="1"/>
<line x1="71.5" y1="580" x2="71.5" y2="689" stroke="#c3c7d3" stroke-width="1" stroke-dasharray="2,2" opacity="1"/>
<line x1="92.5" y1="580" x2="92.5" y2="689" stroke="#c3c7d3" stroke-width="1" stroke-dasharray="2,2" opacity="1"/>
<line x1="118.5" y1="580" x2="118.5" y2="689" stroke="#c3c7d3" stroke-width="1" stroke-dasharray="2,2" opacity="1"/>
<line x1="140.5" y1="580" x2="140.5" y2="689" stroke="#c3c7d3" stroke-width="1" stroke-dasharray="2,2" opacity="1"/>
<line x1="162.5" y1="580" x2="162.5" y2="689" stroke="#c3c7d3" stroke-width="1" stroke-dasharray="2,2" opacity="1"/>
<line x1="188.5" y1="580" x2="188.5" y2="689" stroke="#c3c7d3" stroke-width="1" stroke-dasharray="2,2" opacity="1"/>
<line x1="210.5" y1="580" x2="210.5" y2="689" stroke="#c3c7d3" stroke-width="1" stroke-dasharray="2,2" opacity="1"/>
<line x1="230.5" y1="580" x2="230.5" y2="689" stroke="#c3c7d3" stroke-width="1" stroke-dasharray="2,2" opacity="1"/>
<line x1="257.5" y1="580" x2="257.5" y2="689" stroke="#c3c7d3" stroke-width="1" stroke-dasharray="2,2" opacity="1"/>
<line x1="278.5" y1="580" x2="278.5" y2="689" stroke="#c3c7d3" stroke-width="1" stroke-dasharray="2,2" opacity="1"/>
<line x1="299.5" y1="580" x2="299.5" y2="689" stroke="#c3c7d3" stroke-width="1" stroke-dasharray="2,2" opacity="1"/>
<line x1="326.5" y1="580" x2="326.5" y2="689" stroke="#c3c7d3" stroke-width="1" stroke-dasharray="2,2" opacity="1"/>
<line x1="346.5" y1="580" x2="346.5" y2="689" stroke="#c3c7d3" stroke-width="1" stroke-dasharray="2,2" opacity="1"/>
<line x1="369.5" y1="580" x2="369.5" y2="689" stroke="#c3c7d3" stroke-width="1" stroke-dasharray="2,2" opacity="1"/>
<line x1="396.5" y1="580" x2="396.5" y2="689" stroke="#c3c7d3" stroke-width="1" stroke-dasharray="2,2" opacity="1"/>
<line x1="416.5" y1="580" x2="416.5" y2="689" stroke="#c3c7d3" stroke-width="1" stroke-dasharray="2,2" opacity="1"/>
<line x1="442.5" y1="580" x2="442.5" y2="689" stroke="#c3c7d3" stroke-width="1" stroke-dasharray="2,2" opacity="1"/>
<line x1="464.5" y1="580" x2="464.5" y2="689" stroke="#c3c7d3" stroke-width="1" stroke-dasharray="2,2" opacity="1"/>
<line x1="485.5" y1="580" x2="485.5" y2="689" stroke="#c3c7d3" stroke-width="1" stroke-dasharray="2,2" opacity="1"/>
<line x1="506.5" y1="580" x2="506.5" y2="689" stroke="#c3c7d3" stroke-width="1" stroke-dasharray="2,2" opacity="1"/>
<line x1="533.5" y1="580" x2="533.5" y2="689" stroke="#c3c7d3" stroke-width="1" stroke-dasharray="2,2" opacity="1"/>
<line x1="554.5" y1="580" x2="554.5" y2="689" stroke="#c3c7d3" stroke-width="1" stroke-dasharray="2,2" opacity="1"/>
<line x1="575.5" y1="580" x2="575.5" y2="689" stroke="#c3c7d3" stroke-width="1" stroke-dasharray="2,2" opacity="1"/>
<line x1="602.5" y1="580" x2="602.5" y2="689" stroke="#c3c7d3" stroke-width="1" stroke-dasharray="2,2" opacity="1"/>
<line x1="623.5" y1="580" x2="623.5" y2="689" stroke="#c3c7d3" stroke-width="1" stroke-dasharray="2,2" opacity="1"/>
<line x1="650.5" y1="580" x2="650.5" y2="689" stroke="#c3c7d3" stroke-width="1" stroke-dasharray="2,2" opacity="1"/>
<line x1="671.5" y1="580" x2="671.5" y2="689" stroke="#c3c7d3" stroke-width="1" stroke-dasharray="2,2" opacity="1"/>
<line x1="692.5" y1="580" x2="692.5" y2="689" stroke="#c3c7d3" stroke-width="1" stroke-dasharray="2,2" opacity="1"/>
<line x1="718.5" y1="580" x2="718.5" y2="689" stroke="#c3c7d3" stroke-width="1" stroke-dasharray="2,2" opacity="1"/>
<line x1="17" y1="591.5" x2="736" y2="591.5" stroke="#c3c7d3" stroke-width="1" stroke-dasharray="2,2" opacity="1"/>
<line x1="17" y1="614.5" x2="736" y2="614.5" stroke="#c3c7d3" stroke-width="1" stroke-dasharray="2,2" opacity="1"/>
<line x1="17" y1="637.5" x2="736" y2="637.5" stroke="#c3c7d3" stroke-width="1" stroke-dasharray="2,2" opacity="1"/>
<line x1="17" y1="660.5" x2="736" y2="660.5" stroke="#c3c7d3" stroke-width="1" stroke-dasharray="2,2" opacity="1"/>
<line x1="17" y1="684.5" x2="736" y2="684.5" stroke="#c3c7d3" stroke-width="1" stroke-dasharray="2,2" opacity="1"/>
<g clip-path="url(#cmacd)">
<rect x="16.5" y="636.5" width="5.3" height="3.5" fill="#aa5878" stroke="#1e2a50" stroke-width="0.8"/>
<rect x="22.5" y="636.5" width="5.3" height="2.5" fill="#aa5878" stroke="#1e2a50" stroke-width="0.8"/>
<rect x="27.5" y="636.5" width="5.3" height="1.5" fill="#aa5878" stroke="#1e2a50" stroke-width="0.8"/>
<rect x="32.5" y="635.5" width="5.3" height="1" fill="#a8a050" stroke="#1e2a50" stroke-width="0.8"/>
<rect x="37.5" y="634.5" width="5.3" height="2" fill="#a8a050" stroke="#1e2a50" stroke-width="0.8"/>
<rect x="43.5" y="632.8" width="5.3" height="3.7" fill="#a8a050" stroke="#1e2a50" stroke-width="0.8"/>
<rect x="48.5" y="629.8" width="5.3" height="6.7" fill="#a8a050" stroke="#1e2a50" stroke-width="0.8"/>
<rect x="53.5" y="625.9" width="5.3" height="10.6" fill="#a8a050" stroke="#1e2a50" stroke-width="0.8"/>
<rect x="59.5" y="624.5" width="5.3" height="12" fill="#a8a050" stroke="#1e2a50" stroke-width="0.8"/>
<rect x="64.5" y="622.7" width="5.3" height="13.8" fill="#a8a050" stroke="#1e2a50" stroke-width="0.8"/>
<rect x="69.5" y="623.6" width="5.3" height="12.9" fill="#a8a050" stroke="#1e2a50" stroke-width="0.8"/>
<rect x="74.5" y="626.5" width="5.3" height="10" fill="#a8a050" stroke="#1e2a50" stroke-width="0.8"/>
<rect x="80.5" y="634.2" width="5.3" height="2.3" fill="#a8a050" stroke="#1e2a50" stroke-width="0.8"/>
<rect x="85.5" y="636.5" width="5.3" height="4.4" fill="#aa5878" stroke="#1e2a50" stroke-width="0.8"/>
<rect x="90.5" y="636.5" width="5.3" height="7.3" fill="#aa5878" stroke="#1e2a50" stroke-width="0.8"/>
<rect x="96.5" y="636.5" width="5.3" height="8.3" fill="#aa5878" stroke="#1e2a50" stroke-width="0.8"/>
<rect x="101.5" y="636.5" width="5.3" height="10.6" fill="#aa5878" stroke="#1e2a50" stroke-width="0.8"/>
<rect x="106.5" y="636.5" width="5.3" height="8.3" fill="#aa5878" stroke="#1e2a50" stroke-width="0.8"/>
<rect x="112.5" y="636.5" width="5.3" height="6" fill="#aa5878" stroke="#1e2a50" stroke-width="0.8"/>
<rect x="117.5" y="636.5" width="5.3" height="4" fill="#aa5878" stroke="#1e2a50" stroke-width="0.8"/>
<rect x="122.5" y="636.5" width="5.3" height="5" fill="#aa5878" stroke="#1e2a50" stroke-width="0.8"/>
<rect x="128.5" y="636.5" width="5.3" height="6" fill="#aa5878" stroke="#1e2a50" stroke-width="0.8"/>
<rect x="133.5" y="636.5" width="5.3" height="5" fill="#aa5878" stroke="#1e2a50" stroke-width="0.8"/>
<rect x="138.5" y="636.5" width="5.3" height="6.3" fill="#aa5878" stroke="#1e2a50" stroke-width="0.8"/>
<rect x="143.5" y="636.5" width="5.3" height="9.2" fill="#aa5878" stroke="#1e2a50" stroke-width="0.8"/>
<rect x="149.5" y="636.5" width="5.3" height="11.2" fill="#aa5878" stroke="#1e2a50" stroke-width="0.8"/>
<rect x="154.5" y="636.5" width="5.3" height="13" fill="#aa5878" stroke="#1e2a50" stroke-width="0.8"/>
<rect x="159.5" y="636.5" width="5.3" height="12.1" fill="#aa5878" stroke="#1e2a50" stroke-width="0.8"/>
<rect x="165.5" y="636.5" width="5.3" height="10.6" fill="#aa5878" stroke="#1e2a50" stroke-width="0.8"/>
<rect x="170.5" y="636.5" width="5.3" height="8.3" fill="#aa5878" stroke="#1e2a50" stroke-width="0.8"/>
<rect x="175.5" y="636.5" width="5.3" height="5" fill="#aa5878" stroke="#1e2a50" stroke-width="0.8"/>
<rect x="180.5" y="636.5" width="5.3" height="2.1" fill="#aa5878" stroke="#1e2a50" stroke-width="0.8"/>
<rect x="186.5" y="636.5" width="5.3" height="1" fill="#aa5878" stroke="#1e2a50" stroke-width="0.8"/>
<rect x="191" y="636" width="5.3" height="1" fill="#1e3050"/>
<rect x="196.5" y="635.2" width="5.3" height="1.3" fill="#a8a050" stroke="#1e2a50" stroke-width="0.8"/>
<rect x="202.5" y="635.7" width="5.3" height="0.8" fill="#a8a050" stroke="#1e2a50" stroke-width="0.8"/>
<rect x="207.5" y="636.5" width="5.3" height="0.6" fill="#aa5878" stroke="#1e2a50" stroke-width="0.8"/>
<rect x="212.5" y="636.5" width="5.3" height="1.9" fill="#aa5878" stroke="#1e2a50" stroke-width="0.8"/>
<rect x="218.5" y="636.5" width="5.3" height="3.1" fill="#aa5878" stroke="#1e2a50" stroke-width="0.8"/>
<rect x="223.5" y="636.5" width="5.3" height="4.4" fill="#aa5878" stroke="#1e2a50" stroke-width="0.8"/>
<rect x="228.5" y="636.5" width="5.3" height="5.4" fill="#aa5878" stroke="#1e2a50" stroke-width="0.8"/>
<rect x="234.5" y="636.5" width="5.3" height="5" fill="#aa5878" stroke="#1e2a50" stroke-width="0.8"/>
<rect x="239.5" y="636.5" width="5.3" height="4.8" fill="#aa5878" stroke="#1e2a50" stroke-width="0.8"/>
<rect x="244.5" y="636.5" width="5.3" height="3.8" fill="#aa5878" stroke="#1e2a50" stroke-width="0.8"/>
<rect x="249.5" y="636.5" width="5.3" height="4.4" fill="#aa5878" stroke="#1e2a50" stroke-width="0.8"/>
<rect x="255.5" y="636.5" width="5.3" height="6.3" fill="#aa5878" stroke="#1e2a50" stroke-width="0.8"/>
<rect x="260.5" y="636.5" width="5.3" height="6.9" fill="#aa5878" stroke="#1e2a50" stroke-width="0.8"/>
<rect x="265.5" y="636.5" width="5.3" height="7.3" fill="#aa5878" stroke="#1e2a50" stroke-width="0.8"/>
<rect x="271.5" y="636.5" width="5.3" height="6.3" fill="#aa5878" stroke="#1e2a50" stroke-width="0.8"/>
<rect x="276.5" y="636.5" width="5.3" height="5.4" fill="#aa5878" stroke="#1e2a50" stroke-width="0.8"/>
<rect x="281.5" y="636.5" width="5.3" height="3.5" fill="#aa5878" stroke="#1e2a50" stroke-width="0.8"/>
<rect x="286.5" y="636.5" width="5.3" height="3.8" fill="#aa5878" stroke="#1e2a50" stroke-width="0.8"/>
<rect x="292.5" y="636.5" width="5.3" height="3.1" fill="#aa5878" stroke="#1e2a50" stroke-width="0.8"/>
<rect x="297.5" y="636.5" width="5.3" height="3.1" fill="#aa5878" stroke="#1e2a50" stroke-width="0.8"/>
<rect x="302.5" y="636.5" width="5.3" height="2.3" fill="#aa5878" stroke="#1e2a50" stroke-width="0.8"/>
<rect x="308.5" y="636.5" width="5.3" height="1.5" fill="#aa5878" stroke="#1e2a50" stroke-width="0.8"/>
<rect x="313.5" y="636.5" width="5.3" height="1" fill="#aa5878" stroke="#1e2a50" stroke-width="0.8"/>
<rect x="318" y="636" width="5.3" height="1" fill="#1e3050"/>
<rect x="324.5" y="635.7" width="5.3" height="0.8" fill="#a8a050" stroke="#1e2a50" stroke-width="0.8"/>
<rect x="329.5" y="635.5" width="5.3" height="1" fill="#a8a050" stroke="#1e2a50" stroke-width="0.8"/>
<rect x="334.5" y="633.8" width="5.3" height="2.7" fill="#a8a050" stroke="#1e2a50" stroke-width="0.8"/>
<rect x="340.5" y="631.7" width="5.3" height="4.8" fill="#a8a050" stroke="#1e2a50" stroke-width="0.8"/>
<rect x="345.5" y="629.4" width="5.3" height="7.1" fill="#a8a050" stroke="#1e2a50" stroke-width="0.8"/>
<rect x="350.5" y="627.5" width="5.3" height="9" fill="#a8a050" stroke="#1e2a50" stroke-width="0.8"/>
<rect x="355.5" y="626.5" width="5.3" height="10" fill="#a8a050" stroke="#1e2a50" stroke-width="0.8"/>
<rect x="361.5" y="626.5" width="5.3" height="10" fill="#a8a050" stroke="#1e2a50" stroke-width="0.8"/>
<rect x="366.5" y="626.5" width="5.3" height="10" fill="#a8a050" stroke="#1e2a50" stroke-width="0.8"/>
<rect x="371.5" y="628.8" width="5.3" height="7.7" fill="#a8a050" stroke="#1e2a50" stroke-width="0.8"/>
<rect x="377.5" y="631.7" width="5.3" height="4.8" fill="#a8a050" stroke="#1e2a50" stroke-width="0.8"/>
<rect x="382.5" y="634.2" width="5.3" height="2.3" fill="#a8a050" stroke="#1e2a50" stroke-width="0.8"/>
<rect x="387" y="636" width="5.3" height="1" fill="#1e3050"/>
<rect x="392" y="636" width="5.3" height="1" fill="#1e3050"/>
<rect x="398.5" y="636.5" width="5.3" height="1.2" fill="#aa5878" stroke="#1e2a50" stroke-width="0.8"/>
<rect x="403" y="636" width="5.3" height="1" fill="#1e3050"/>
<rect x="408.5" y="636.5" width="5.3" height="1" fill="#aa5878" stroke="#1e2a50" stroke-width="0.8"/>
<rect x="414.5" y="636.5" width="5.3" height="1.9" fill="#aa5878" stroke="#1e2a50" stroke-width="0.8"/>
<rect x="419.5" y="636.5" width="5.3" height="3.1" fill="#aa5878" stroke="#1e2a50" stroke-width="0.8"/>
<rect x="424.5" y="636.5" width="5.3" height="4.4" fill="#aa5878" stroke="#1e2a50" stroke-width="0.8"/>
<rect x="430.5" y="636.5" width="5.3" height="5.4" fill="#aa5878" stroke="#1e2a50" stroke-width="0.8"/>
<rect x="435.5" y="636.5" width="5.3" height="6.3" fill="#aa5878" stroke="#1e2a50" stroke-width="0.8"/>
<rect x="440.5" y="636.5" width="5.3" height="6" fill="#aa5878" stroke="#1e2a50" stroke-width="0.8"/>
<rect x="446.5" y="636.5" width="5.3" height="5" fill="#aa5878" stroke="#1e2a50" stroke-width="0.8"/>
<rect x="451.5" y="636.5" width="5.3" height="5" fill="#aa5878" stroke="#1e2a50" stroke-width="0.8"/>
<rect x="456.5" y="636.5" width="5.3" height="4" fill="#aa5878" stroke="#1e2a50" stroke-width="0.8"/>
<rect x="461.5" y="636.5" width="5.3" height="4" fill="#aa5878" stroke="#1e2a50" stroke-width="0.8"/>
<rect x="467.5" y="636.5" width="5.3" height="5.4" fill="#aa5878" stroke="#1e2a50" stroke-width="0.8"/>
<rect x="472.5" y="636.5" width="5.3" height="6" fill="#aa5878" stroke="#1e2a50" stroke-width="0.8"/>
<rect x="477.5" y="636.5" width="5.3" height="7.3" fill="#aa5878" stroke="#1e2a50" stroke-width="0.8"/>
<rect x="483.5" y="636.5" width="5.3" height="6.9" fill="#aa5878" stroke="#1e2a50" stroke-width="0.8"/>
<rect x="488.5" y="636.5" width="5.3" height="6.3" fill="#aa5878" stroke="#1e2a50" stroke-width="0.8"/>
<rect x="493.5" y="636.5" width="5.3" height="5" fill="#aa5878" stroke="#1e2a50" stroke-width="0.8"/>
<rect x="498.5" y="636.5" width="5.3" height="3.8" fill="#aa5878" stroke="#1e2a50" stroke-width="0.8"/>
<rect x="504.5" y="636.5" width="5.3" height="3.8" fill="#aa5878" stroke="#1e2a50" stroke-width="0.8"/>
<rect x="509.5" y="636.5" width="5.3" height="6" fill="#aa5878" stroke="#1e2a50" stroke-width="0.8"/>
<rect x="514.5" y="636.5" width="5.3" height="9.8" fill="#aa5878" stroke="#1e2a50" stroke-width="0.8"/>
<rect x="520.5" y="636.5" width="5.3" height="9.8" fill="#aa5878" stroke="#1e2a50" stroke-width="0.8"/>
<rect x="525.5" y="636.5" width="5.3" height="8.3" fill="#aa5878" stroke="#1e2a50" stroke-width="0.8"/>
<rect x="530.5" y="636.5" width="5.3" height="7.9" fill="#aa5878" stroke="#1e2a50" stroke-width="0.8"/>
<rect x="536.5" y="636.5" width="5.3" height="9.8" fill="#aa5878" stroke="#1e2a50" stroke-width="0.8"/>
<rect x="541.5" y="636.5" width="5.3" height="8.8" fill="#aa5878" stroke="#1e2a50" stroke-width="0.8"/>
<rect x="546.5" y="636.5" width="5.3" height="7.7" fill="#aa5878" stroke="#1e2a50" stroke-width="0.8"/>
<rect x="551.5" y="636.5" width="5.3" height="6.9" fill="#aa5878" stroke="#1e2a50" stroke-width="0.8"/>
<rect x="557.5" y="636.5" width="5.3" height="6" fill="#aa5878" stroke="#1e2a50" stroke-width="0.8"/>
<rect x="562.5" y="636.5" width="5.3" height="6.9" fill="#aa5878" stroke="#1e2a50" stroke-width="0.8"/>
<rect x="567.5" y="636.5" width="5.3" height="9.2" fill="#aa5878" stroke="#1e2a50" stroke-width="0.8"/>
<rect x="573.5" y="636.5" width="5.3" height="9.8" fill="#aa5878" stroke="#1e2a50" stroke-width="0.8"/>
<rect x="578.5" y="636.5" width="5.3" height="8.3" fill="#aa5878" stroke="#1e2a50" stroke-width="0.8"/>
<rect x="583.5" y="636.5" width="5.3" height="5.5" fill="#aa5878" stroke="#1e2a50" stroke-width="0.8"/>
<rect x="589.5" y="636.5" width="5.3" height="2.8" fill="#aa5878" stroke="#1e2a50" stroke-width="0.8"/>
<rect x="594.5" y="636" width="5.3" height="0.5" fill="#a8a050" stroke="#1e2a50" stroke-width="0.8"/>
<polyline points="16.9,615.5 18.8,615.6 24.1,616.2 29.4,615.5 34.7,615 40,614.3 45.3,614 50.6,611 55.9,607.7 61.2,605 66.5,603.3 71.8,601.5 77.1,599.5 82.4,595.3 87.7,594.8 93,597.6 98.3,600.5 103.6,602 108.9,604.3 114.2,605.3 119.5,606.7 124.8,607.2 130.1,609.1 135.4,610.9 140.7,612.1 146,614.6 151.3,617.8 156.6,620.8 161.9,623.6 167.2,625.1 172.5,626.4 177.8,627.4 183.1,628.2 188.4,627.4 193.7,627 199,627.4 204.3,627.3 209.6,627 214.9,627.6 220.2,628.7 225.5,629.8 230.8,630.9 236.1,632.2 241.4,633.8 246.7,634.8 252,635.1 257.3,636.1 262.6,637.4 267.9,639 273.2,639.4 278.5,639.9 283.8,641.8 289.1,643 294.4,644.1 299.7,644.1 305,644.9 310.3,645.7 315.6,645.3 320.9,644.9 326.2,644.8 331.5,643.4 336.8,641.3 342.1,639.5 347.4,638 352.7,636 358,634.5 363.3,632.2 368.6,629.9 373.9,627.6 379.2,625.7 384.5,624.9 389.8,624.7 395.1,625.1 400.4,624.5 405.7,625.1 411,625.1 416.3,625.7 421.6,626.8 426.9,628 432.2,629.3 437.5,629.2 442.8,630.3 448.1,632.2 453.4,632.6 458.7,633.6 464,634.2 469.3,635.1 474.6,638.3 479.9,639.5 485.2,641.9 490.5,642.9 495.8,643.2 501.1,644.4 506.4,645.7 511.7,648 517,649.9 522.3,651.9 527.6,654.3 532.9,655.3 538.2,657.6 543.5,660.5 548.8,663.2 554.1,664.4 559.4,665.7 564.7,667.3 570,668.8 575.3,672.4 580.6,673.2 585.9,674.8 591.2,675.2 596.5,675.8" fill="none" stroke="#7a2434" stroke-width="1" stroke-linejoin="round"/>
<polyline points="16.9,617.3 18.8,617.3 24.1,617.3 29.4,615.9 34.7,614 40,612 45.3,610.3 50.6,604.3 55.9,597.1 61.2,593 66.5,589.5 71.8,588.6 77.1,589.5 82.4,593 87.7,599.2 93,604.9 98.3,608.8 103.6,612.6 108.9,612.6 114.2,611.3 119.5,610.7 124.8,612.2 130.1,615.1 135.4,615.9 140.7,618.4 146,623.8 151.3,629 156.6,633.8 161.9,635.7 167.2,635.7 172.5,634.7 177.8,632.4 183.1,630.3 188.4,628.4 193.7,627 199,626.1 204.3,626.5 209.6,627.6 214.9,629.5 220.2,631.8 225.5,634.2 230.8,636.3 236.1,637.2 241.4,638.6 246.7,638.6 252,639.5 257.3,642.4 262.6,644.3 267.9,646.3 273.2,645.7 278.5,645.3 283.8,645.3 289.1,646.8 294.4,647.2 299.7,647.2 305,647.2 310.3,647.2 315.6,646.3 320.9,644.9 326.2,644 331.5,642.4 336.8,638.6 342.1,634.7 347.4,630.9 352.7,627 358,624.5 363.3,622.2 368.6,619.9 373.9,619.9 379.2,620.9 384.5,622.6 389.8,624.7 395.1,625.1 400.4,625.7 405.7,625.1 411,626.1 416.3,627.6 421.6,629.9 426.9,632.4 432.2,634.7 437.5,635.5 442.8,636.3 448.1,637.2 453.4,637.6 458.7,637.6 464,638.2 469.3,640.5 474.6,644.3 479.9,646.8 485.2,648.8 490.5,649.2 495.8,648.2 501.1,648.2 506.4,649.5 511.7,654 517,659.7 522.3,661.7 527.6,662.6 532.9,663.2 538.2,667.4 543.5,669.3 548.8,670.9 554.1,671.3 559.4,671.7 564.7,674.2 570,678 575.3,682.2 580.6,681.5 585.9,680.3 591.2,678 596.5,675.3" fill="none" stroke="#1e3050" stroke-width="1.7" stroke-linejoin="round"/>
</g>
<rect x="17" y="580" width="242" height="11.5" fill="#fff"/>
<line x1="19" y1="586" x2="28" y2="586" stroke="#1e3050" stroke-width="2"/>
<text x="31.7" y="589.8" font-family="DejaVu Sans, Verdana, sans-serif" font-size="9.7" fill="#000" textLength="83.3" lengthAdjust="spacing">MACD(12,26,9)</text>
<text x="121" y="589.8" font-family="DejaVu Sans, Verdana, sans-serif" font-size="9.7" fill="#1e3050" textLength="46.7" lengthAdjust="spacing">-82.144,</text>
<text x="172.7" y="589.8" font-family="DejaVu Sans, Verdana, sans-serif" font-size="9.7" fill="#6a2030" textLength="46.6" lengthAdjust="spacing">-83.158,</text>
<text x="225" y="589.8" font-family="DejaVu Sans, Verdana, sans-serif" font-size="9.7" fill="#8a8430" textLength="30" lengthAdjust="spacing">1.014</text>
<rect x="569.5" y="567" width="156.5" height="66" fill="#9a9a9a" opacity="0.75"/>
<polygon points="643.5,630.5 651,630.5 598,671.4" fill="#9a9a9a" opacity="0.7"/>
<rect x="567.5" y="565" width="156.5" height="66" fill="#fff" stroke="#7f7f7f" stroke-width="1"/>
<polygon points="641.5,630.5 648.5,630.5 596.5,670.4" fill="#fff" stroke="#7f7f7f" stroke-width="1"/>
<line x1="642.4" y1="631" x2="647.6" y2="631" stroke="#fff" stroke-width="1.6"/>
<text x="570.7" y="583.8" font-family="Liberation Sans, Arial, sans-serif" font-size="14.6" fill="#0000ff" font-weight="bold" textLength="144.2" lengthAdjust="spacingAndGlyphs" stroke="#0000ff" stroke-width="0.2">Weekly MACD hasn't</text>
<text x="570.7" y="603.7" font-family="Liberation Sans, Arial, sans-serif" font-size="14.6" fill="#0000ff" font-weight="bold" textLength="129.5" lengthAdjust="spacingAndGlyphs" stroke="#0000ff" stroke-width="0.2">crossed in one full</text>
<text x="570.7" y="623.6" font-family="Liberation Sans, Arial, sans-serif" font-size="14.6" fill="#0000ff" font-weight="bold" textLength="105" lengthAdjust="spacingAndGlyphs" stroke="#0000ff" stroke-width="0.2">year, until now.</text>
<line x1="736.5" y1="29" x2="736.5" y2="345" stroke="#0a1a50" stroke-width="1"/>
<line x1="736.5" y1="359" x2="736.5" y2="690" stroke="#0a1a50" stroke-width="1"/>
<path d="M737 336.5 h2 M737 331.5 h2 M737 326.5 h3 M737 321.5 h2 M737 316.5 h2 M737 311.5 h2 M737 306.5 h2 M737 301.5 h3 M737 296.5 h2 M737 291.5 h2 M737 286.5 h2 M737 282.5 h2 M737 277.5 h3 M737 272.5 h2 M737 267.5 h2 M737 263.5 h2 M737 258.5 h2 M737 254.5 h3 M737 249.5 h2 M737 245.5 h2 M737 240.5 h2 M737 236.5 h2 M737 231.5 h3 M737 227.5 h2 M737 223.5 h2 M737 218.5 h2 M737 214.5 h2 M737 210.5 h3 M737 206.5 h2 M737 201.5 h2 M737 197.5 h2 M737 193.5 h2 M737 189.5 h3 M737 185.5 h2 M737 181.5 h2 M737 177.5 h2 M737 173.5 h2 M737 169.5 h3 M737 165.5 h2 M737 161.5 h2 M737 157.5 h2 M737 153.5 h2 M737 149.5 h3 M737 145.5 h2 M737 142.5 h2 M737 138.5 h2 M737 134.5 h2 M737 130.5 h3 M737 127.5 h2 M737 123.5 h2 M737 119.5 h2 M737 116.5 h2 M737 112.5 h3 M737 108.5 h2 M737 105.5 h2 M737 101.5 h2 M737 98.5 h2 M737 94.5 h3 M737 91.5 h2 M737 87.5 h2 M737 84.5 h2 M737 80.5 h2 M737 77.5 h3 M737 73.5 h2 M737 70.5 h2 M737 67.5 h2 M737 63.5 h2 M737 60.5 h3 M737 57.5 h2 M737 53.5 h2 M737 50.5 h2 M737 47.5 h2 M737 44.5 h3 M737 40.5 h2 M737 37.5 h2 M737 34.5 h2 M737 462.5 h2 M737 453.5 h2 M737 443.5 h2 M737 433.5 h2 M737 424.5 h2 M737 414.5 h2 M737 404.5 h2 M737 395.5 h2 M737 385.5 h2 M737 375.5 h2 M737 366.5 h2 M737 571.5 h2 M737 562.5 h2 M737 553.5 h2 M737 543.5 h2 M737 534.5 h2 M737 524.5 h2 M737 515.5 h2 M737 505.5 h2 M737 496.5 h2 M737 486.5 h2 M737 477.5 h2 M737 684.5 h2 M737 679.5 h2 M737 674.5 h2 M737 670.5 h2 M737 665.5 h2 M737 660.5 h2 M737 656.5 h2 M737 651.5 h2 M737 646.5 h2 M737 642.5 h2 M737 637.5 h2 M737 632.5 h2 M737 628.5 h2 M737 623.5 h2 M737 618.5 h2 M737 614.5 h2 M737 609.5 h2 M737 605.5 h2 M737 600.5 h2 M737 595.5 h2 M737 591.5 h2" stroke="#0a1a50" stroke-width="1" fill="none"/>
<text x="740.5" y="329.5" font-family="Liberation Sans, Arial, sans-serif" font-size="9.4" fill="#fff" textLength="22.3" lengthAdjust="spacingAndGlyphs">1200</text>
<text x="740.5" y="304.4" font-family="Liberation Sans, Arial, sans-serif" font-size="9.4" fill="#fff" textLength="22.3" lengthAdjust="spacingAndGlyphs">1250</text>
<text x="740.5" y="280.3" font-family="Liberation Sans, Arial, sans-serif" font-size="9.4" fill="#fff" textLength="22.3" lengthAdjust="spacingAndGlyphs">1300</text>
<text x="740.5" y="257.1" font-family="Liberation Sans, Arial, sans-serif" font-size="9.4" fill="#fff" textLength="22.3" lengthAdjust="spacingAndGlyphs">1350</text>
<text x="740.5" y="234.7" font-family="Liberation Sans, Arial, sans-serif" font-size="9.4" fill="#fff" textLength="22.3" lengthAdjust="spacingAndGlyphs">1400</text>
<text x="740.5" y="213.1" font-family="Liberation Sans, Arial, sans-serif" font-size="9.4" fill="#fff" textLength="22.3" lengthAdjust="spacingAndGlyphs">1450</text>
<text x="740.5" y="192.3" font-family="Liberation Sans, Arial, sans-serif" font-size="9.4" fill="#fff" textLength="22.3" lengthAdjust="spacingAndGlyphs">1500</text>
<text x="740.5" y="172.1" font-family="Liberation Sans, Arial, sans-serif" font-size="9.4" fill="#fff" textLength="22.3" lengthAdjust="spacingAndGlyphs">1550</text>
<text x="740.5" y="152.6" font-family="Liberation Sans, Arial, sans-serif" font-size="9.4" fill="#fff" textLength="22.3" lengthAdjust="spacingAndGlyphs">1600</text>
<text x="740.5" y="133.7" font-family="Liberation Sans, Arial, sans-serif" font-size="9.4" fill="#fff" textLength="22.3" lengthAdjust="spacingAndGlyphs">1650</text>
<text x="740.5" y="115.3" font-family="Liberation Sans, Arial, sans-serif" font-size="9.4" fill="#fff" textLength="22.3" lengthAdjust="spacingAndGlyphs">1700</text>
<text x="740.5" y="97.5" font-family="Liberation Sans, Arial, sans-serif" font-size="9.4" fill="#fff" textLength="22.3" lengthAdjust="spacingAndGlyphs">1750</text>
<text x="740.5" y="80.2" font-family="Liberation Sans, Arial, sans-serif" font-size="9.4" fill="#fff" textLength="22.3" lengthAdjust="spacingAndGlyphs">1800</text>
<text x="740.5" y="63.3" font-family="Liberation Sans, Arial, sans-serif" font-size="9.4" fill="#fff" textLength="22.3" lengthAdjust="spacingAndGlyphs">1850</text>
<text x="740.5" y="46.9" font-family="Liberation Sans, Arial, sans-serif" font-size="9.4" fill="#fff" textLength="22.3" lengthAdjust="spacingAndGlyphs">1900</text>
<text x="740.5" y="379" font-family="Liberation Sans, Arial, sans-serif" font-size="9.4" fill="#fff" textLength="11.2" lengthAdjust="spacingAndGlyphs">90</text>
<text x="740.5" y="398.3" font-family="Liberation Sans, Arial, sans-serif" font-size="9.4" fill="#fff" textLength="11.2" lengthAdjust="spacingAndGlyphs">70</text>
<text x="740.5" y="436.9" font-family="Liberation Sans, Arial, sans-serif" font-size="9.4" fill="#fff" textLength="11.2" lengthAdjust="spacingAndGlyphs">30</text>
<text x="740.5" y="456.2" font-family="Liberation Sans, Arial, sans-serif" font-size="9.4" fill="#fff" textLength="11.2" lengthAdjust="spacingAndGlyphs">10</text>
<text x="740.5" y="499.4" font-family="Liberation Sans, Arial, sans-serif" font-size="9.4" fill="#fff" textLength="11.2" lengthAdjust="spacingAndGlyphs">80</text>
<text x="740.5" y="527.7" font-family="Liberation Sans, Arial, sans-serif" font-size="9.4" fill="#fff" textLength="11.2" lengthAdjust="spacingAndGlyphs">50</text>
<text x="740.5" y="556.1" font-family="Liberation Sans, Arial, sans-serif" font-size="9.4" fill="#fff" textLength="11.2" lengthAdjust="spacingAndGlyphs">20</text>
<text x="740.5" y="594" font-family="Liberation Sans, Arial, sans-serif" font-size="9.4" fill="#fff" textLength="16.7" lengthAdjust="spacingAndGlyphs">100</text>
<text x="740.5" y="617.2" font-family="Liberation Sans, Arial, sans-serif" font-size="9.4" fill="#fff" textLength="11.2" lengthAdjust="spacingAndGlyphs">50</text>
<text x="738.5" y="663.8" font-family="Liberation Sans, Arial, sans-serif" font-size="9.4" fill="#fff" textLength="14.6" lengthAdjust="spacingAndGlyphs">-50</text>
<text x="738.5" y="687" font-family="Liberation Sans, Arial, sans-serif" font-size="9.4" fill="#fff" textLength="20.2" lengthAdjust="spacingAndGlyphs">-100</text>
<polygon points="733.8,142.5 738.5,137.8 779.5,137.8 779.5,147.2 738.5,147.2" fill="#fff" stroke="#000070" stroke-width="1"/>
<text x="739.9" y="145.9" font-family="Liberation Sans, Arial, sans-serif" font-size="9.6" fill="#000" textLength="37.6" lengthAdjust="spacingAndGlyphs">1617.54</text>
<polygon points="733.8,232.5 738.5,227.8 779.5,227.8 779.5,237.2 738.5,237.2" fill="#fff" stroke="#000070" stroke-width="1"/>
<text x="739.9" y="235.9" font-family="Liberation Sans, Arial, sans-serif" font-size="9.6" fill="#000" textLength="37.6" lengthAdjust="spacingAndGlyphs">1396.81</text>
<polygon points="733.8,338 738.5,333.3 779.5,333.3 779.5,342.7 738.5,342.7" fill="#fff" stroke="#000070" stroke-width="1"/>
<text x="739.9" y="341.4" font-family="Liberation Sans, Arial, sans-serif" font-size="9.6" fill="#000" textLength="37.6" lengthAdjust="spacingAndGlyphs">1176.08</text>
<polygon points="733.8,264 738.5,258.8 779.5,258.8 779.5,269.2 738.5,269.2" fill="#fff" stroke="#000070" stroke-width="1"/>
<text x="739.9" y="267.4" font-family="Liberation Sans, Arial, sans-serif" font-size="9.6" fill="#000" font-weight="bold" textLength="37.6" lengthAdjust="spacingAndGlyphs">1326.20</text>
<polygon points="733.8,412.5 738.5,407.8 767,407.8 767,417.2 738.5,417.2" fill="#fff" stroke="#000070" stroke-width="1"/>
<text x="739.9" y="415.9" font-family="Liberation Sans, Arial, sans-serif" font-size="9.6" fill="#000" textLength="25.1" lengthAdjust="spacingAndGlyphs">51.72</text>
<polygon points="733.8,529.5 738.5,524.8 768,524.8 768,534.2 738.5,534.2" fill="#fff" stroke="#000070" stroke-width="1"/>
<text x="739.9" y="532.9" font-family="Liberation Sans, Arial, sans-serif" font-size="9.6" fill="#000" textLength="26.1" lengthAdjust="spacingAndGlyphs">44.62</text>
<polygon points="733.8,539 738.5,534.3 768,534.3 768,543.7 738.5,543.7" fill="#fff" stroke="#000070" stroke-width="1"/>
<text x="739.9" y="542.4" font-family="Liberation Sans, Arial, sans-serif" font-size="9.6" fill="#000" textLength="26.1" lengthAdjust="spacingAndGlyphs">35.02</text>
<polygon points="733.8,636.5 738.5,631.8 767.5,631.8 767.5,641.2 738.5,641.2" fill="#fff" stroke="#000070" stroke-width="1"/>
<text x="739.9" y="639.9" font-family="Liberation Sans, Arial, sans-serif" font-size="9.6" fill="#000" textLength="25.6" lengthAdjust="spacingAndGlyphs">1.014</text>
<polygon points="733.8,675.5 738.5,670.8 777,670.8 777,680.2 738.5,680.2" fill="#fff" stroke="#000070" stroke-width="1"/>
<text x="739.9" y="678.9" font-family="Liberation Sans, Arial, sans-serif" font-size="9.6" fill="#000" textLength="35.1" lengthAdjust="spacingAndGlyphs">-82.144</text>
<text x="23.7" y="356.2" font-family="Liberation Sans, Arial, sans-serif" font-size="10.5" fill="#fff" text-anchor="middle" textLength="14.2" lengthAdjust="spacingAndGlyphs">Jul</text>
<text x="45" y="356.2" font-family="Liberation Sans, Arial, sans-serif" font-size="10.5" fill="#fff" text-anchor="middle" textLength="18" lengthAdjust="spacingAndGlyphs">Aug</text>
<text x="71" y="356.2" font-family="Liberation Sans, Arial, sans-serif" font-size="10.5" fill="#fff" text-anchor="middle" textLength="17.7" lengthAdjust="spacingAndGlyphs">Sep</text>
<text x="92" y="356.2" font-family="Liberation Sans, Arial, sans-serif" font-size="10.5" fill="#fff" text-anchor="middle" textLength="16.6" lengthAdjust="spacingAndGlyphs">Oct</text>
<text x="118" y="356.2" font-family="Liberation Sans, Arial, sans-serif" font-size="10.5" fill="#fff" text-anchor="middle" textLength="17.6" lengthAdjust="spacingAndGlyphs">Nov</text>
<text x="160.5" y="356.2" font-family="Liberation Sans, Arial, sans-serif" font-size="11.5" fill="#fff" font-weight="bold" text-anchor="middle" textLength="23.3" lengthAdjust="spacingAndGlyphs">2012</text>
<text x="188" y="356.2" font-family="Liberation Sans, Arial, sans-serif" font-size="10.5" fill="#fff" text-anchor="middle" textLength="17.5" lengthAdjust="spacingAndGlyphs">Feb</text>
<text x="210" y="356.2" font-family="Liberation Sans, Arial, sans-serif" font-size="10.5" fill="#fff" text-anchor="middle" textLength="16.3" lengthAdjust="spacingAndGlyphs">Mar</text>
<text x="230" y="356.2" font-family="Liberation Sans, Arial, sans-serif" font-size="10.5" fill="#fff" text-anchor="middle" textLength="16.3" lengthAdjust="spacingAndGlyphs">Apr</text>
<text x="257" y="356.2" font-family="Liberation Sans, Arial, sans-serif" font-size="10.5" fill="#fff" text-anchor="middle" textLength="19.5" lengthAdjust="spacingAndGlyphs">May</text>
<text x="278" y="356.2" font-family="Liberation Sans, Arial, sans-serif" font-size="10.5" fill="#fff" text-anchor="middle" textLength="16.5" lengthAdjust="spacingAndGlyphs">Jun</text>
<text x="299" y="356.2" font-family="Liberation Sans, Arial, sans-serif" font-size="10.5" fill="#fff" text-anchor="middle" textLength="14.2" lengthAdjust="spacingAndGlyphs">Jul</text>
<text x="326" y="356.2" font-family="Liberation Sans, Arial, sans-serif" font-size="10.5" fill="#fff" text-anchor="middle" textLength="18" lengthAdjust="spacingAndGlyphs">Aug</text>
<text x="346" y="356.2" font-family="Liberation Sans, Arial, sans-serif" font-size="10.5" fill="#fff" text-anchor="middle" textLength="17.7" lengthAdjust="spacingAndGlyphs">Sep</text>
<text x="369" y="356.2" font-family="Liberation Sans, Arial, sans-serif" font-size="10.5" fill="#fff" text-anchor="middle" textLength="16.6" lengthAdjust="spacingAndGlyphs">Oct</text>
<text x="396" y="356.2" font-family="Liberation Sans, Arial, sans-serif" font-size="10.5" fill="#fff" text-anchor="middle" textLength="17.6" lengthAdjust="spacingAndGlyphs">Nov</text>
<text x="416" y="356.2" font-family="Liberation Sans, Arial, sans-serif" font-size="10.5" fill="#fff" text-anchor="middle" textLength="17.6" lengthAdjust="spacingAndGlyphs">Dec</text>
<text x="442.5" y="356.2" font-family="Liberation Sans, Arial, sans-serif" font-size="11.5" fill="#fff" font-weight="bold" text-anchor="middle" textLength="23.3" lengthAdjust="spacingAndGlyphs">2013</text>
<text x="464.5" y="356.2" font-family="Liberation Sans, Arial, sans-serif" font-size="10.5" fill="#fff" text-anchor="middle" textLength="17.5" lengthAdjust="spacingAndGlyphs">Feb</text>
<text x="485" y="356.2" font-family="Liberation Sans, Arial, sans-serif" font-size="10.5" fill="#fff" text-anchor="middle" textLength="16.3" lengthAdjust="spacingAndGlyphs">Mar</text>
<text x="506" y="356.2" font-family="Liberation Sans, Arial, sans-serif" font-size="10.5" fill="#fff" text-anchor="middle" textLength="16.3" lengthAdjust="spacingAndGlyphs">Apr</text>
<text x="533" y="356.2" font-family="Liberation Sans, Arial, sans-serif" font-size="10.5" fill="#fff" text-anchor="middle" textLength="19.5" lengthAdjust="spacingAndGlyphs">May</text>
<text x="554" y="356.2" font-family="Liberation Sans, Arial, sans-serif" font-size="10.5" fill="#fff" text-anchor="middle" textLength="16.5" lengthAdjust="spacingAndGlyphs">Jun</text>
<text x="575" y="356.2" font-family="Liberation Sans, Arial, sans-serif" font-size="10.5" fill="#fff" text-anchor="middle" textLength="14.2" lengthAdjust="spacingAndGlyphs">Jul</text>
<text x="602.5" y="356.2" font-family="Liberation Sans, Arial, sans-serif" font-size="10.5" fill="#fff" text-anchor="middle" textLength="18" lengthAdjust="spacingAndGlyphs">Aug</text>
<text x="623" y="356.2" font-family="Liberation Sans, Arial, sans-serif" font-size="10.5" fill="#fff" text-anchor="middle" textLength="17.7" lengthAdjust="spacingAndGlyphs">Sep</text>
<text x="650" y="356.2" font-family="Liberation Sans, Arial, sans-serif" font-size="10.5" fill="#fff" text-anchor="middle" textLength="16.6" lengthAdjust="spacingAndGlyphs">Oct</text>
<text x="671" y="356.2" font-family="Liberation Sans, Arial, sans-serif" font-size="10.5" fill="#fff" text-anchor="middle" textLength="17.6" lengthAdjust="spacingAndGlyphs">Nov</text>
<text x="692" y="356.2" font-family="Liberation Sans, Arial, sans-serif" font-size="10.5" fill="#fff" text-anchor="middle" textLength="17.6" lengthAdjust="spacingAndGlyphs">Dec</text>
<text x="718.5" y="356.2" font-family="Liberation Sans, Arial, sans-serif" font-size="11.5" fill="#fff" font-weight="bold" text-anchor="middle" textLength="23.3" lengthAdjust="spacingAndGlyphs">2014</text>
<text x="23.7" y="700.9" font-family="Liberation Sans, Arial, sans-serif" font-size="10.5" fill="#fff" text-anchor="middle" textLength="14.2" lengthAdjust="spacingAndGlyphs">Jul</text>
<text x="45" y="700.9" font-family="Liberation Sans, Arial, sans-serif" font-size="10.5" fill="#fff" text-anchor="middle" textLength="18" lengthAdjust="spacingAndGlyphs">Aug</text>
<text x="71" y="700.9" font-family="Liberation Sans, Arial, sans-serif" font-size="10.5" fill="#fff" text-anchor="middle" textLength="17.7" lengthAdjust="spacingAndGlyphs">Sep</text>
<text x="92" y="700.9" font-family="Liberation Sans, Arial, sans-serif" font-size="10.5" fill="#fff" text-anchor="middle" textLength="16.6" lengthAdjust="spacingAndGlyphs">Oct</text>
<text x="118" y="700.9" font-family="Liberation Sans, Arial, sans-serif" font-size="10.5" fill="#fff" text-anchor="middle" textLength="17.6" lengthAdjust="spacingAndGlyphs">Nov</text>
<text x="160.5" y="700.9" font-family="Liberation Sans, Arial, sans-serif" font-size="11.5" fill="#fff" font-weight="bold" text-anchor="middle" textLength="23.3" lengthAdjust="spacingAndGlyphs">2012</text>
<text x="188" y="700.9" font-family="Liberation Sans, Arial, sans-serif" font-size="10.5" fill="#fff" text-anchor="middle" textLength="17.5" lengthAdjust="spacingAndGlyphs">Feb</text>
<text x="210" y="700.9" font-family="Liberation Sans, Arial, sans-serif" font-size="10.5" fill="#fff" text-anchor="middle" textLength="16.3" lengthAdjust="spacingAndGlyphs">Mar</text>
<text x="230" y="700.9" font-family="Liberation Sans, Arial, sans-serif" font-size="10.5" fill="#fff" text-anchor="middle" textLength="16.3" lengthAdjust="spacingAndGlyphs">Apr</text>
<text x="257" y="700.9" font-family="Liberation Sans, Arial, sans-serif" font-size="10.5" fill="#fff" text-anchor="middle" textLength="19.5" lengthAdjust="spacingAndGlyphs">May</text>
<text x="278" y="700.9" font-family="Liberation Sans, Arial, sans-serif" font-size="10.5" fill="#fff" text-anchor="middle" textLength="16.5" lengthAdjust="spacingAndGlyphs">Jun</text>
<text x="299" y="700.9" font-family="Liberation Sans, Arial, sans-serif" font-size="10.5" fill="#fff" text-anchor="middle" textLength="14.2" lengthAdjust="spacingAndGlyphs">Jul</text>
<text x="326" y="700.9" font-family="Liberation Sans, Arial, sans-serif" font-size="10.5" fill="#fff" text-anchor="middle" textLength="18" lengthAdjust="spacingAndGlyphs">Aug</text>
<text x="346" y="700.9" font-family="Liberation Sans, Arial, sans-serif" font-size="10.5" fill="#fff" text-anchor="middle" textLength="17.7" lengthAdjust="spacingAndGlyphs">Sep</text>
<text x="369" y="700.9" font-family="Liberation Sans, Arial, sans-serif" font-size="10.5" fill="#fff" text-anchor="middle" textLength="16.6" lengthAdjust="spacingAndGlyphs">Oct</text>
<text x="396" y="700.9" font-family="Liberation Sans, Arial, sans-serif" font-size="10.5" fill="#fff" text-anchor="middle" textLength="17.6" lengthAdjust="spacingAndGlyphs">Nov</text>
<text x="416" y="700.9" font-family="Liberation Sans, Arial, sans-serif" font-size="10.5" fill="#fff" text-anchor="middle" textLength="17.6" lengthAdjust="spacingAndGlyphs">Dec</text>
<text x="442.5" y="700.9" font-family="Liberation Sans, Arial, sans-serif" font-size="11.5" fill="#fff" font-weight="bold" text-anchor="middle" textLength="23.3" lengthAdjust="spacingAndGlyphs">2013</text>
<text x="464.5" y="700.9" font-family="Liberation Sans, Arial, sans-serif" font-size="10.5" fill="#fff" text-anchor="middle" textLength="17.5" lengthAdjust="spacingAndGlyphs">Feb</text>
<text x="485" y="700.9" font-family="Liberation Sans, Arial, sans-serif" font-size="10.5" fill="#fff" text-anchor="middle" textLength="16.3" lengthAdjust="spacingAndGlyphs">Mar</text>
<text x="506" y="700.9" font-family="Liberation Sans, Arial, sans-serif" font-size="10.5" fill="#fff" text-anchor="middle" textLength="16.3" lengthAdjust="spacingAndGlyphs">Apr</text>
<text x="533" y="700.9" font-family="Liberation Sans, Arial, sans-serif" font-size="10.5" fill="#fff" text-anchor="middle" textLength="19.5" lengthAdjust="spacingAndGlyphs">May</text>
<text x="554" y="700.9" font-family="Liberation Sans, Arial, sans-serif" font-size="10.5" fill="#fff" text-anchor="middle" textLength="16.5" lengthAdjust="spacingAndGlyphs">Jun</text>
<text x="575" y="700.9" font-family="Liberation Sans, Arial, sans-serif" font-size="10.5" fill="#fff" text-anchor="middle" textLength="14.2" lengthAdjust="spacingAndGlyphs">Jul</text>
<text x="602.5" y="700.9" font-family="Liberation Sans, Arial, sans-serif" font-size="10.5" fill="#fff" text-anchor="middle" textLength="18" lengthAdjust="spacingAndGlyphs">Aug</text>
<text x="623" y="700.9" font-family="Liberation Sans, Arial, sans-serif" font-size="10.5" fill="#fff" text-anchor="middle" textLength="17.7" lengthAdjust="spacingAndGlyphs">Sep</text>
<text x="650" y="700.9" font-family="Liberation Sans, Arial, sans-serif" font-size="10.5" fill="#fff" text-anchor="middle" textLength="16.6" lengthAdjust="spacingAndGlyphs">Oct</text>
<text x="671" y="700.9" font-family="Liberation Sans, Arial, sans-serif" font-size="10.5" fill="#fff" text-anchor="middle" textLength="17.6" lengthAdjust="spacingAndGlyphs">Nov</text>
<text x="692" y="700.9" font-family="Liberation Sans, Arial, sans-serif" font-size="10.5" fill="#fff" text-anchor="middle" textLength="17.6" lengthAdjust="spacingAndGlyphs">Dec</text>
<text x="718.5" y="700.9" font-family="Liberation Sans, Arial, sans-serif" font-size="11.5" fill="#fff" font-weight="bold" text-anchor="middle" textLength="23.3" lengthAdjust="spacingAndGlyphs">2014</text>
<path d="M24.5 345 v2 M24.5 690 v2 M45.5 345 v2 M45.5 690 v2 M71.5 345 v2 M71.5 690 v2 M92.5 345 v2 M92.5 690 v2 M118.5 345 v2 M118.5 690 v2 M140.5 345 v2 M140.5 690 v2 M162.5 345 v2 M162.5 690 v2 M188.5 345 v2 M188.5 690 v2 M210.5 345 v2 M210.5 690 v2 M230.5 345 v2 M230.5 690 v2 M257.5 345 v2 M257.5 690 v2 M278.5 345 v2 M278.5 690 v2 M299.5 345 v2 M299.5 690 v2 M326.5 345 v2 M326.5 690 v2 M346.5 345 v2 M346.5 690 v2 M369.5 345 v2 M369.5 690 v2 M396.5 345 v2 M396.5 690 v2 M416.5 345 v2 M416.5 690 v2 M442.5 345 v2 M442.5 690 v2 M464.5 345 v2 M464.5 690 v2 M485.5 345 v2 M485.5 690 v2 M506.5 345 v2 M506.5 690 v2 M533.5 345 v2 M533.5 690 v2 M554.5 345 v2 M554.5 690 v2 M575.5 345 v2 M575.5 690 v2 M602.5 345 v2 M602.5 690 v2 M623.5 345 v2 M623.5 690 v2 M650.5 345 v2 M650.5 690 v2 M671.5 345 v2 M671.5 690 v2 M692.5 345 v2 M692.5 690 v2 M718.5 345 v2 M718.5 690 v2 M19.5 345 v1 M19.5 690 v1 M24.5 345 v1 M24.5 690 v1 M29.5 345 v1 M29.5 690 v1 M35.5 345 v1 M35.5 690 v1 M40.5 345 v1 M40.5 690 v1 M45.5 345 v1 M45.5 690 v1 M51.5 345 v1 M51.5 690 v1 M56.5 345 v1 M56.5 690 v1 M61.5 345 v1 M61.5 690 v1 M66.5 345 v1 M66.5 690 v1 M72.5 345 v1 M72.5 690 v1 M77.5 345 v1 M77.5 690 v1 M82.5 345 v1 M82.5 690 v1 M88.5 345 v1 M88.5 690 v1 M93.5 345 v1 M93.5 690 v1 M98.5 345 v1 M98.5 690 v1 M104.5 345 v1 M104.5 690 v1 M109.5 345 v1 M109.5 690 v1 M114.5 345 v1 M114.5 690 v1 M120.5 345 v1 M120.5 690 v1 M125.5 345 v1 M125.5 690 v1 M130.5 345 v1 M130.5 690 v1 M135.5 345 v1 M135.5 690 v1 M141.5 345 v1 M141.5 690 v1 M146.5 345 v1 M146.5 690 v1 M151.5 345 v1 M151.5 690 v1 M157.5 345 v1 M157.5 690 v1 M162.5 345 v1 M162.5 690 v1 M167.5 345 v1 M167.5 690 v1 M172.5 345 v1 M172.5 690 v1 M178.5 345 v1 M178.5 690 v1 M183.5 345 v1 M183.5 690 v1 M188.5 345 v1 M188.5 690 v1 M194.5 345 v1 M194.5 690 v1 M199.5 345 v1 M199.5 690 v1 M204.5 345 v1 M204.5 690 v1 M210.5 345 v1 M210.5 690 v1 M215.5 345 v1 M215.5 690 v1 M220.5 345 v1 M220.5 690 v1 M226.5 345 v1 M226.5 690 v1 M231.5 345 v1 M231.5 690 v1 M236.5 345 v1 M236.5 690 v1 M241.5 345 v1 M241.5 690 v1 M247.5 345 v1 M247.5 690 v1 M252.5 345 v1 M252.5 690 v1 M257.5 345 v1 M257.5 690 v1 M263.5 345 v1 M263.5 690 v1 M268.5 345 v1 M268.5 690 v1 M273.5 345 v1 M273.5 690 v1 M278.5 345 v1 M278.5 690 v1 M284.5 345 v1 M284.5 690 v1 M289.5 345 v1 M289.5 690 v1 M294.5 345 v1 M294.5 690 v1 M300.5 345 v1 M300.5 690 v1 M305.5 345 v1 M305.5 690 v1 M310.5 345 v1 M310.5 690 v1 M316.5 345 v1 M316.5 690 v1 M321.5 345 v1 M321.5 690 v1 M326.5 345 v1 M326.5 690 v1 M332.5 345 v1 M332.5 690 v1 M337.5 345 v1 M337.5 690 v1 M342.5 345 v1 M342.5 690 v1 M347.5 345 v1 M347.5 690 v1 M353.5 345 v1 M353.5 690 v1 M358.5 345 v1 M358.5 690 v1 M363.5 345 v1 M363.5 690 v1 M369.5 345 v1 M369.5 690 v1 M374.5 345 v1 M374.5 690 v1 M379.5 345 v1 M379.5 690 v1 M384.5 345 v1 M384.5 690 v1 M390.5 345 v1 M390.5 690 v1 M395.5 345 v1 M395.5 690 v1 M400.5 345 v1 M400.5 690 v1 M406.5 345 v1 M406.5 690 v1 M411.5 345 v1 M411.5 690 v1 M416.5 345 v1 M416.5 690 v1 M422.5 345 v1 M422.5 690 v1 M427.5 345 v1 M427.5 690 v1 M432.5 345 v1 M432.5 690 v1 M438.5 345 v1 M438.5 690 v1 M443.5 345 v1 M443.5 690 v1 M448.5 345 v1 M448.5 690 v1 M453.5 345 v1 M453.5 690 v1 M459.5 345 v1 M459.5 690 v1 M464.5 345 v1 M464.5 690 v1 M469.5 345 v1 M469.5 690 v1 M475.5 345 v1 M475.5 690 v1 M480.5 345 v1 M480.5 690 v1 M485.5 345 v1 M485.5 690 v1 M490.5 345 v1 M490.5 690 v1 M496.5 345 v1 M496.5 690 v1 M501.5 345 v1 M501.5 690 v1 M506.5 345 v1 M506.5 690 v1 M512.5 345 v1 M512.5 690 v1 M517.5 345 v1 M517.5 690 v1 M522.5 345 v1 M522.5 690 v1 M528.5 345 v1 M528.5 690 v1 M533.5 345 v1 M533.5 690 v1 M538.5 345 v1 M538.5 690 v1 M543.5 345 v1 M543.5 690 v1 M549.5 345 v1 M549.5 690 v1 M554.5 345 v1 M554.5 690 v1 M559.5 345 v1 M559.5 690 v1 M565.5 345 v1 M565.5 690 v1 M570.5 345 v1 M570.5 690 v1 M575.5 345 v1 M575.5 690 v1 M581.5 345 v1 M581.5 690 v1 M586.5 345 v1 M586.5 690 v1 M591.5 345 v1 M591.5 690 v1 M596.5 345 v1 M596.5 690 v1 M602.5 345 v1 M602.5 690 v1 M607.5 345 v1 M607.5 690 v1 M612.5 345 v1 M612.5 690 v1 M618.5 345 v1 M618.5 690 v1 M623.5 345 v1 M623.5 690 v1 M628.5 345 v1 M628.5 690 v1 M634.5 345 v1 M634.5 690 v1 M639.5 345 v1 M639.5 690 v1 M644.5 345 v1 M644.5 690 v1 M649.5 345 v1 M649.5 690 v1 M655.5 345 v1 M655.5 690 v1 M660.5 345 v1 M660.5 690 v1 M665.5 345 v1 M665.5 690 v1 M671.5 345 v1 M671.5 690 v1 M676.5 345 v1 M676.5 690 v1 M681.5 345 v1 M681.5 690 v1 M687.5 345 v1 M687.5 690 v1 M692.5 345 v1 M692.5 690 v1 M697.5 345 v1 M697.5 690 v1 M702.5 345 v1 M702.5 690 v1 M708.5 345 v1 M708.5 690 v1 M713.5 345 v1 M713.5 690 v1 M718.5 345 v1 M718.5 690 v1 M724.5 345 v1 M724.5 690 v1 M729.5 345 v1 M729.5 690 v1 M734.5 345 v1 M734.5 690 v1" stroke="#0a1a50" stroke-width="1" fill="none"/>
<text x="16.2" y="14.7" font-family="Liberation Sans, Arial, sans-serif" font-size="15.5" fill="#fff" font-weight="bold" textLength="42.3" lengthAdjust="spacingAndGlyphs">$GOLD</text>
<text x="63.6" y="14.7" font-family="Liberation Sans, Arial, sans-serif" font-size="12" fill="#fff" textLength="112.3" lengthAdjust="spacingAndGlyphs">Gold - Spot Price (EOD)</text>
<text x="182" y="14.5" font-family="Liberation Sans, Arial, sans-serif" font-size="9" fill="#fff" textLength="21.2" lengthAdjust="spacingAndGlyphs">CME</text>
<text x="16.2" y="27" font-family="Liberation Sans, Arial, sans-serif" font-size="10" fill="#fff" textLength="55.3" lengthAdjust="spacingAndGlyphs">29-Jul-2013</text>
<text x="248" y="27" font-family="Liberation Sans, Arial, sans-serif" font-size="10.8" fill="#fff" font-weight="bold" textLength="27.7" lengthAdjust="spacingAndGlyphs">Open</text>
<text x="280.9" y="27" font-family="Liberation Sans, Arial, sans-serif" font-size="10.8" fill="#fff" textLength="37.4" lengthAdjust="spacingAndGlyphs">1333.60</text>
<text x="325.2" y="27" font-family="Liberation Sans, Arial, sans-serif" font-size="10.8" fill="#fff" font-weight="bold" textLength="23.2" lengthAdjust="spacingAndGlyphs">High</text>
<text x="352.9" y="27" font-family="Liberation Sans, Arial, sans-serif" font-size="10.8" fill="#fff" textLength="37" lengthAdjust="spacingAndGlyphs">1338.10</text>
<text x="396.8" y="27" font-family="Liberation Sans, Arial, sans-serif" font-size="10.8" fill="#fff" font-weight="bold" textLength="22.9" lengthAdjust="spacingAndGlyphs">Low</text>
<text x="424.5" y="27" font-family="Liberation Sans, Arial, sans-serif" font-size="10.8" fill="#fff" textLength="37.4" lengthAdjust="spacingAndGlyphs">1322.60</text>
<text x="469" y="27" font-family="Liberation Sans, Arial, sans-serif" font-size="10.8" fill="#fff" font-weight="bold" textLength="30.5" lengthAdjust="spacingAndGlyphs">Close</text>
<text x="504.9" y="27" font-family="Liberation Sans, Arial, sans-serif" font-size="10.8" fill="#fff" textLength="36.9" lengthAdjust="spacingAndGlyphs">1326.20</text>
<text x="549.7" y="27" font-family="Liberation Sans, Arial, sans-serif" font-size="10.8" fill="#fff" font-weight="bold" textLength="41.3" lengthAdjust="spacingAndGlyphs">Volume</text>
<text x="595.7" y="27" font-family="Liberation Sans, Arial, sans-serif" font-size="10.8" fill="#fff" textLength="33" lengthAdjust="spacingAndGlyphs">128.7K</text>
<text x="634.8" y="27" font-family="Liberation Sans, Arial, sans-serif" font-size="10.8" fill="#fff" font-weight="bold" textLength="20.8" lengthAdjust="spacingAndGlyphs">Chg</text>
<text x="658.5" y="27" font-family="Liberation Sans, Arial, sans-serif" font-size="10.8" fill="#fff" textLength="67.1" lengthAdjust="spacingAndGlyphs">-5.70 (-0.43%)</text>
<polygon points="728.5,21.6 735.7,21.6 732.1,25.8" fill="#c01038"/>
<text x="647.4" y="14.2" font-family="Liberation Sans, Arial, sans-serif" font-size="11" fill="#a9c0d8" textLength="88.3" lengthAdjust="spacingAndGlyphs">© StockCharts.com</text>
</svg>
</body></html>
